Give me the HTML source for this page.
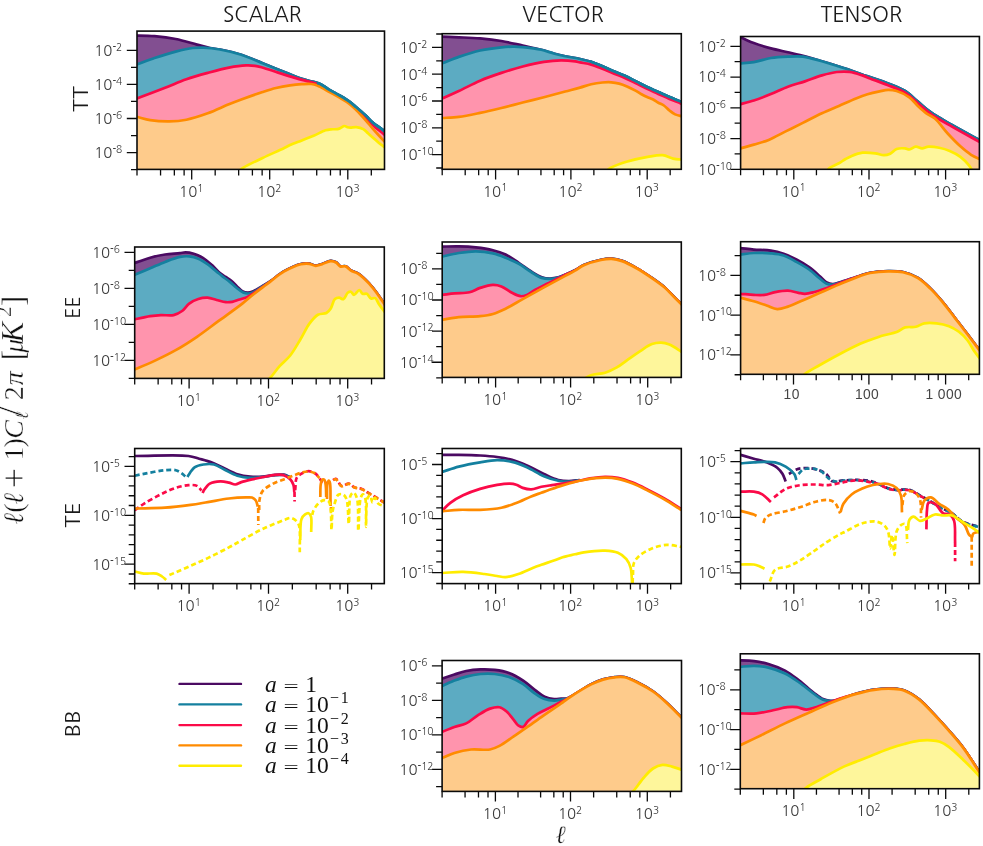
<!DOCTYPE html>
<html><head><meta charset="utf-8"><title>Power spectra</title>
<style>html,body{margin:0;padding:0;background:#fff;}svg{display:block;}</style>
</head><body>
<svg width="983" height="846" viewBox="0 0 983 846">
<rect width="983" height="846" fill="#fff"/>
<clipPath id="cA"><rect x="137" y="31.1" width="247.5" height="138.3"/></clipPath>
<g clip-path="url(#cA)" fill="none" stroke-linejoin="round" stroke-linecap="butt">
<path d="M134,35.6C135,35.6 135.59,35.58 137,35.6C140.42,35.66 148.4,35.69 154.5,36.2C161.24,36.76 168.67,37.62 175.7,39C182.84,40.4 190.77,42.97 197,44.6C201.87,45.88 205.93,47.16 210,48C213.53,48.72 216.07,48.72 220,49.5C225.8,50.65 234.28,52.54 241.3,54.8C248.48,57.11 256.08,60.69 262.6,63.3C268.15,65.52 273.18,67.59 278,69.5C282.24,71.19 286.02,72.63 290,74.2C293.95,75.76 297.82,77.61 301.8,78.9C305.69,80.16 310.18,80.91 313.6,81.9C316.28,82.67 318.32,83.06 320.7,84.2C323.44,85.51 326.03,87.81 329,89.6C332.29,91.58 336.19,93.49 339.6,95.5C342.88,97.43 346.23,99.33 349.1,101.4C351.71,103.28 353.68,105.15 356.2,107.3C359.15,109.81 362.82,112.9 365.7,115.6C368.25,117.99 370.02,120.32 372.7,122.6C375.8,125.23 380.79,128.38 383.4,130.3C384.93,131.42 385.8,132.1 387,133L387,172.4L134,172.4Z" fill="#824f91" stroke="none"/>
<path d="M134,35.6C135,35.6 135.59,35.58 137,35.6C140.42,35.66 148.4,35.69 154.5,36.2C161.24,36.76 168.67,37.62 175.7,39C182.84,40.4 190.77,42.97 197,44.6C201.87,45.88 205.93,47.16 210,48C213.53,48.72 216.07,48.72 220,49.5C225.8,50.65 234.28,52.54 241.3,54.8C248.48,57.11 256.08,60.69 262.6,63.3C268.15,65.52 273.18,67.59 278,69.5C282.24,71.19 286.02,72.63 290,74.2C293.95,75.76 297.82,77.61 301.8,78.9C305.69,80.16 310.18,80.91 313.6,81.9C316.28,82.67 318.32,83.06 320.7,84.2C323.44,85.51 326.03,87.81 329,89.6C332.29,91.58 336.19,93.49 339.6,95.5C342.88,97.43 346.23,99.33 349.1,101.4C351.71,103.28 353.68,105.15 356.2,107.3C359.15,109.81 362.82,112.9 365.7,115.6C368.25,117.99 370.02,120.32 372.7,122.6C375.8,125.23 380.79,128.38 383.4,130.3C384.93,131.42 385.8,132.1 387,133" stroke="#4b0a62" stroke-width="2.7"/>
<path d="M134,65.2C135,64.93 135.6,64.84 137,64.4C140.43,63.32 148.36,60.05 154.5,58C161.2,55.77 168.98,53.32 175.7,51.6C181.67,50.07 187.75,48.62 192.8,48C196.73,47.52 199.48,47.45 203.4,47.6C208.32,47.79 214.16,48.44 220,49.5C226.7,50.71 234.28,52.54 241.3,54.8C248.48,57.11 256.08,60.69 262.6,63.3C268.15,65.52 273.18,67.59 278,69.5C282.24,71.19 286.02,72.63 290,74.2C293.95,75.76 297.82,77.61 301.8,78.9C305.69,80.16 310.18,80.91 313.6,81.9C316.28,82.67 318.32,83.06 320.7,84.2C323.44,85.51 326.03,87.81 329,89.6C332.29,91.58 336.19,93.49 339.6,95.5C342.88,97.43 346.23,99.33 349.1,101.4C351.71,103.28 353.68,105.15 356.2,107.3C359.15,109.81 362.82,112.9 365.7,115.6C368.25,117.99 370.02,120.32 372.7,122.6C375.8,125.23 380.79,128.38 383.4,130.3C384.93,131.42 385.8,132.1 387,133L387,172.4L134,172.4Z" fill="#5cabc2" stroke="none"/>
<path d="M134,65.2C135,64.93 135.6,64.84 137,64.4C140.43,63.32 148.36,60.05 154.5,58C161.2,55.77 168.98,53.32 175.7,51.6C181.67,50.07 187.75,48.62 192.8,48C196.73,47.52 199.48,47.45 203.4,47.6C208.32,47.79 214.16,48.44 220,49.5C226.7,50.71 234.28,52.54 241.3,54.8C248.48,57.11 256.08,60.69 262.6,63.3C268.15,65.52 273.18,67.59 278,69.5C282.24,71.19 286.02,72.63 290,74.2C293.95,75.76 297.82,77.61 301.8,78.9C305.69,80.16 310.18,80.91 313.6,81.9C316.28,82.67 318.32,83.06 320.7,84.2C323.44,85.51 326.03,87.81 329,89.6C332.29,91.58 336.19,93.49 339.6,95.5C342.88,97.43 346.23,99.33 349.1,101.4C351.71,103.28 353.68,105.15 356.2,107.3C359.15,109.81 362.82,112.9 365.7,115.6C368.25,117.99 370.02,120.32 372.7,122.6C375.8,125.23 380.79,128.38 383.4,130.3C384.93,131.42 385.8,132.1 387,133" stroke="#14809f" stroke-width="2.7"/>
<path d="M134,99.4C135,99.07 135.5,98.93 137,98.4C141.62,96.76 156.4,91.18 165.1,87.8C172.71,84.85 179.24,81.8 186.4,79.3C193.45,76.84 200.59,74.86 207.7,72.9C214.75,70.96 222.18,68.87 228.9,67.6C234.87,66.47 241.2,65.6 246,65.4C249.47,65.25 252.17,65.41 255,65.8C257.58,66.15 259.42,66.7 262.3,67.5C266.58,68.69 272.82,70.92 278.1,72.6C283.39,74.29 288.67,76.06 294,77.6C299.31,79.13 305.95,80.7 310,81.8C312.48,82.48 314.13,82.9 316,83.5C317.67,84.04 318.97,84.34 320.7,85.2C323.14,86.41 326.03,88.81 329,90.6C332.29,92.58 336.19,94.49 339.6,96.5C342.88,98.43 346.24,100.29 349.1,102.4C351.73,104.34 353.68,106.32 356.2,108.6C359.16,111.28 362.82,114.61 365.7,117.5C368.26,120.06 370.03,122.49 372.7,125C375.81,127.92 380.8,131.57 383.4,133.8C384.93,135.11 385.8,135.93 387,137L387,172.4L134,172.4Z" fill="#ff94ad" stroke="none"/>
<path d="M134,99.4C135,99.07 135.5,98.93 137,98.4C141.62,96.76 156.4,91.18 165.1,87.8C172.71,84.85 179.24,81.8 186.4,79.3C193.45,76.84 200.59,74.86 207.7,72.9C214.75,70.96 222.18,68.87 228.9,67.6C234.87,66.47 241.2,65.6 246,65.4C249.47,65.25 252.17,65.41 255,65.8C257.58,66.15 259.42,66.7 262.3,67.5C266.58,68.69 272.82,70.92 278.1,72.6C283.39,74.29 288.67,76.06 294,77.6C299.31,79.13 305.95,80.7 310,81.8C312.48,82.48 314.13,82.9 316,83.5C317.67,84.04 318.97,84.34 320.7,85.2C323.14,86.41 326.03,88.81 329,90.6C332.29,92.58 336.19,94.49 339.6,96.5C342.88,98.43 346.24,100.29 349.1,102.4C351.73,104.34 353.68,106.32 356.2,108.6C359.16,111.28 362.82,114.61 365.7,117.5C368.26,120.06 370.03,122.49 372.7,125C375.81,127.92 380.8,131.57 383.4,133.8C384.93,135.11 385.8,135.93 387,137" stroke="#fb0a48" stroke-width="2.7"/>
<path d="M134,116.4C135,116.57 135.65,116.62 137,116.9C139.85,117.48 145.35,119.35 150.2,120.1C155.97,120.99 163.2,121.5 169.4,121.4C175.24,121.31 180.47,120.88 186.4,119.7C193.16,118.36 200.68,115.84 207.7,113.3C214.85,110.72 222.76,106.79 228.9,104.3C233.57,102.41 236.6,101.24 241.3,99.5C247.43,97.23 256.3,94.05 262.6,92C267.56,90.39 271.45,89.1 276,88C280.59,86.89 285.52,86.04 290,85.4C294.09,84.81 298.08,84.43 301.8,84.2C305.13,84 308.53,83.7 311.3,84C313.52,84.24 315.37,84.74 317.2,85.4C318.92,86.03 320.26,86.87 322,87.8C324.13,88.94 326.42,90.35 329,91.8C332.16,93.58 336.19,95.69 339.6,97.7C342.88,99.63 346.25,101.46 349.1,103.6C351.74,105.58 353.72,107.55 356.2,110C359.2,112.97 362.81,117.02 365.7,120.3C368.25,123.19 370.09,125.62 372.7,128.6C375.86,132.21 380.76,137.62 383.4,140.4C384.89,141.97 385.8,142.8 387,144L387,172.4L134,172.4Z" fill="#fecb8b" stroke="none"/>
<path d="M134,116.4C135,116.57 135.65,116.62 137,116.9C139.85,117.48 145.35,119.35 150.2,120.1C155.97,120.99 163.2,121.5 169.4,121.4C175.24,121.31 180.47,120.88 186.4,119.7C193.16,118.36 200.68,115.84 207.7,113.3C214.85,110.72 222.76,106.79 228.9,104.3C233.57,102.41 236.6,101.24 241.3,99.5C247.43,97.23 256.3,94.05 262.6,92C267.56,90.39 271.45,89.1 276,88C280.59,86.89 285.52,86.04 290,85.4C294.09,84.81 298.08,84.43 301.8,84.2C305.13,84 308.53,83.7 311.3,84C313.52,84.24 315.37,84.74 317.2,85.4C318.92,86.03 320.26,86.87 322,87.8C324.13,88.94 326.42,90.35 329,91.8C332.16,93.58 336.19,95.69 339.6,97.7C342.88,99.63 346.25,101.46 349.1,103.6C351.74,105.58 353.72,107.55 356.2,110C359.2,112.97 362.81,117.02 365.7,120.3C368.25,123.19 370.09,125.62 372.7,128.6C375.86,132.21 380.76,137.62 383.4,140.4C384.89,141.97 385.8,142.8 387,144" stroke="#ff8b00" stroke-width="2.7"/>
<path d="M238,172C239.8,170.53 240.93,169.2 243.4,167.6C247.74,164.8 256.02,161.17 262.6,158C269.47,154.7 278.85,150.58 283.8,148.2C286.5,146.9 287.58,146.19 290,145.1C293.28,143.63 297.87,141.97 301.8,140.4C305.73,138.83 309.68,137.37 313.6,135.7C317.58,134.01 322.24,131.32 325.5,130.3C327.63,129.63 329.1,129.5 331,129.3C333.02,129.09 335.57,129.42 337.3,129.1C338.57,128.87 339.4,128.47 340.5,128C341.75,127.47 343.16,126.06 344.4,126C345.48,125.94 346.48,126.93 347.5,127.2C348.44,127.45 349.19,127.57 350.3,127.6C351.9,127.65 354.16,126.91 356.2,127.1C358.48,127.32 361.28,127.99 363.3,129.1C365.17,130.12 366.43,131.91 368,133.3C369.56,134.68 371.04,135.94 372.7,137.4C374.58,139.05 376.8,141.13 378.7,142.7C380.34,144.05 381.93,145.19 383.4,146.3C384.68,147.27 385.8,148.1 387,149L387,172.4L238,172.4Z" fill="#fef69b" stroke="none"/>
<path d="M238,172C239.8,170.53 240.93,169.2 243.4,167.6C247.74,164.8 256.02,161.17 262.6,158C269.47,154.7 278.85,150.58 283.8,148.2C286.5,146.9 287.58,146.19 290,145.1C293.28,143.63 297.87,141.97 301.8,140.4C305.73,138.83 309.68,137.37 313.6,135.7C317.58,134.01 322.24,131.32 325.5,130.3C327.63,129.63 329.1,129.5 331,129.3C333.02,129.09 335.57,129.42 337.3,129.1C338.57,128.87 339.4,128.47 340.5,128C341.75,127.47 343.16,126.06 344.4,126C345.48,125.94 346.48,126.93 347.5,127.2C348.44,127.45 349.19,127.57 350.3,127.6C351.9,127.65 354.16,126.91 356.2,127.1C358.48,127.32 361.28,127.99 363.3,129.1C365.17,130.12 366.43,131.91 368,133.3C369.56,134.68 371.04,135.94 372.7,137.4C374.58,139.05 376.8,141.13 378.7,142.7C380.34,144.05 381.93,145.19 383.4,146.3C384.68,147.27 385.8,148.1 387,149" stroke="#ffec00" stroke-width="2.7"/>
<path d="M318,83.2C318.9,83.53 319.59,83.64 320.7,84.2C322.75,85.23 326.03,87.81 329,89.6C332.29,91.58 336.19,93.49 339.6,95.5C342.88,97.43 346.23,99.33 349.1,101.4C351.71,103.28 353.68,105.15 356.2,107.3C359.15,109.81 362.82,112.9 365.7,115.6C368.25,117.99 370.02,120.32 372.7,122.6C375.8,125.23 380.79,128.38 383.4,130.3C384.93,131.42 385.8,132.1 387,133" stroke="#14809f" stroke-width="2.7" stroke-linecap="round"/>
</g>
<rect x="137" y="31.1" width="247.5" height="138.3" fill="none" stroke="#0a0a0a" stroke-width="1.6"/>
<path d="M131,169.65H137M126.8,152.6H137M131,135.55H137M126.8,118.5H137M131,101.45H137M126.8,84.4H137M131,67.35H137M126.8,50.3H137M137,169.4V175.4M160.56,169.4V175.4M174.34,169.4V175.4M184.12,169.4V175.4M191.7,169.4V179.6M215.18,169.4V175.4M238.66,169.4V175.4M252.4,169.4V175.4M262.14,169.4V175.4M269.7,169.4V179.6M293.21,169.4V175.4M316.72,169.4V175.4M330.47,169.4V175.4M340.23,169.4V175.4M347.8,169.4V179.6M371.31,169.4V175.4" stroke="#0a0a0a" stroke-width="1.3" fill="none"/>
<g fill="#3c3c3c" font-family="NanumGothic, 'Liberation Sans', sans-serif">
<text x="94.2" y="158" font-size="15.0">10<tspan dy="-5.1" font-size="10.2">-8</tspan></text>
<text x="94.2" y="123.9" font-size="15.0">10<tspan dy="-5.1" font-size="10.2">-6</tspan></text>
<text x="94.2" y="89.8" font-size="15.0">10<tspan dy="-5.1" font-size="10.2">-4</tspan></text>
<text x="94.2" y="55.7" font-size="15.0">10<tspan dy="-5.1" font-size="10.2">-2</tspan></text>
<text x="191.3" y="196.9" text-anchor="middle" font-size="15">10<tspan dy="-5.4" font-size="10.2">1</tspan></text>
<text x="269.3" y="196.9" text-anchor="middle" font-size="15">10<tspan dy="-5.4" font-size="10.2">2</tspan></text>
<text x="347.4" y="196.9" text-anchor="middle" font-size="15">10<tspan dy="-5.4" font-size="10.2">3</tspan></text>
</g>
<clipPath id="cB"><rect x="442.2" y="33.7" width="239.1" height="135.6"/></clipPath>
<g clip-path="url(#cB)" fill="none" stroke-linejoin="round" stroke-linecap="butt">
<path d="M439,36.7C440.07,36.7 440.72,36.67 442.2,36.7C445.58,36.76 452.92,37.04 458.8,37.3C465.46,37.59 473.01,37.79 480.1,38.4C487.21,39.02 494.33,39.81 501.4,41C508.53,42.2 515.84,44.09 522.7,45.6C529.11,47.02 535.64,48.33 541.3,49.8C546.13,51.05 550.4,52.59 554.6,53.7C558.32,54.68 561.36,55.38 565.2,56.2C569.71,57.16 575.42,58 580,59C584.01,59.88 587.51,60.6 591.2,61.8C594.98,63.02 598.68,64.72 602.4,66.3C606.15,67.89 609.85,69.71 613.6,71.3C617.32,72.88 621.1,74.14 624.8,75.8C628.57,77.5 632.28,79.53 636,81.4C639.71,83.26 643.37,85.23 647.1,87C650.8,88.76 654.57,90.32 658.3,92C662.04,93.68 665.75,95.51 669.5,97.1C673.21,98.67 678.08,100.39 680.7,101.5C682.14,102.11 682.9,102.5 684,103L684,172.3L439,172.3Z" fill="#824f91" stroke="none"/>
<path d="M439,36.7C440.07,36.7 440.72,36.67 442.2,36.7C445.58,36.76 452.92,37.04 458.8,37.3C465.46,37.59 473.01,37.79 480.1,38.4C487.21,39.02 494.33,39.81 501.4,41C508.53,42.2 515.84,44.09 522.7,45.6C529.11,47.02 535.64,48.33 541.3,49.8C546.13,51.05 550.4,52.59 554.6,53.7C558.32,54.68 561.36,55.38 565.2,56.2C569.71,57.16 575.42,58 580,59C584.01,59.88 587.51,60.6 591.2,61.8C594.98,63.02 598.68,64.72 602.4,66.3C606.15,67.89 609.85,69.71 613.6,71.3C617.32,72.88 621.1,74.14 624.8,75.8C628.57,77.5 632.28,79.53 636,81.4C639.71,83.26 643.37,85.23 647.1,87C650.8,88.76 654.57,90.32 658.3,92C662.04,93.68 665.75,95.51 669.5,97.1C673.21,98.67 678.08,100.39 680.7,101.5C682.14,102.11 682.9,102.5 684,103" stroke="#4b0a62" stroke-width="2.7"/>
<path d="M439,64.2C440.07,63.9 440.73,63.79 442.2,63.3C445.59,62.17 452.88,58.93 458.8,56.9C465.42,54.63 472.94,52.1 480.1,50.5C487.14,48.92 495.2,47.91 501.4,47.3C506.16,46.83 509.43,46.6 514.1,46.7C519.84,46.82 528.29,47.74 533.3,48.4C536.55,48.83 538.32,49.1 541.3,49.8C545.2,50.71 550.4,52.59 554.6,53.7C558.32,54.68 561.36,55.38 565.2,56.2C569.71,57.16 575.42,58 580,59C584.01,59.88 587.51,60.6 591.2,61.8C594.98,63.02 598.68,64.72 602.4,66.3C606.15,67.89 609.85,69.71 613.6,71.3C617.32,72.88 621.1,74.14 624.8,75.8C628.57,77.5 632.28,79.53 636,81.4C639.71,83.26 643.37,85.23 647.1,87C650.8,88.76 654.57,90.32 658.3,92C662.04,93.68 665.75,95.51 669.5,97.1C673.21,98.67 678.08,100.39 680.7,101.5C682.14,102.11 682.9,102.5 684,103L684,172.3L439,172.3Z" fill="#5cabc2" stroke="none"/>
<path d="M439,64.2C440.07,63.9 440.73,63.79 442.2,63.3C445.59,62.17 452.88,58.93 458.8,56.9C465.42,54.63 472.94,52.1 480.1,50.5C487.14,48.92 495.2,47.91 501.4,47.3C506.16,46.83 509.43,46.6 514.1,46.7C519.84,46.82 528.29,47.74 533.3,48.4C536.55,48.83 538.32,49.1 541.3,49.8C545.2,50.71 550.4,52.59 554.6,53.7C558.32,54.68 561.36,55.38 565.2,56.2C569.71,57.16 575.42,58 580,59C584.01,59.88 587.51,60.6 591.2,61.8C594.98,63.02 598.68,64.72 602.4,66.3C606.15,67.89 609.85,69.71 613.6,71.3C617.32,72.88 621.1,74.14 624.8,75.8C628.57,77.5 632.28,79.53 636,81.4C639.71,83.26 643.37,85.23 647.1,87C650.8,88.76 654.57,90.32 658.3,92C662.04,93.68 665.75,95.51 669.5,97.1C673.21,98.67 678.08,100.39 680.7,101.5C682.14,102.11 682.9,102.5 684,103" stroke="#14809f" stroke-width="2.7"/>
<path d="M439,99.4C440.07,99.07 440.74,98.95 442.2,98.4C445.6,97.12 452.94,93.72 458.8,91C465.48,87.9 472.92,83.74 480.1,80.7C487.13,77.72 494.26,75.28 501.4,72.9C508.47,70.55 515.57,68.36 522.7,66.5C529.74,64.66 537.18,62.84 543.9,61.8C549.87,60.88 555.55,60.33 561,60.3C565.98,60.27 571.84,60.9 575.3,61.4C577.3,61.69 578.1,62.01 580,62.4C582.93,63 587.51,63.57 591.2,64.6C594.98,65.65 598.69,67.23 602.4,68.7C606.15,70.19 609.85,71.96 613.6,73.5C617.32,75.03 621.1,76.27 624.8,77.9C628.57,79.56 632.28,81.56 636,83.4C639.71,85.23 643.37,87.15 647.1,88.9C650.81,90.65 654.57,92.22 658.3,93.9C662.04,95.58 665.75,97.41 669.5,99C673.21,100.57 678.08,102.29 680.7,103.4C682.14,104.01 682.9,104.4 684,104.9L684,172.3L439,172.3Z" fill="#ff94ad" stroke="none"/>
<path d="M439,99.4C440.07,99.07 440.74,98.95 442.2,98.4C445.6,97.12 452.94,93.72 458.8,91C465.48,87.9 472.92,83.74 480.1,80.7C487.13,77.72 494.26,75.28 501.4,72.9C508.47,70.55 515.57,68.36 522.7,66.5C529.74,64.66 537.18,62.84 543.9,61.8C549.87,60.88 555.55,60.33 561,60.3C565.98,60.27 571.84,60.9 575.3,61.4C577.3,61.69 578.1,62.01 580,62.4C582.93,63 587.51,63.57 591.2,64.6C594.98,65.65 598.69,67.23 602.4,68.7C606.15,70.19 609.85,71.96 613.6,73.5C617.32,75.03 621.1,76.27 624.8,77.9C628.57,79.56 632.28,81.56 636,83.4C639.71,85.23 643.37,87.15 647.1,88.9C650.81,90.65 654.57,92.22 658.3,93.9C662.04,95.58 665.75,97.41 669.5,99C673.21,100.57 678.08,102.29 680.7,103.4C682.14,104.01 682.9,104.4 684,104.9" stroke="#fb0a48" stroke-width="2.7"/>
<path d="M439,118.3C440.07,118.2 440.72,118.12 442.2,118C445.58,117.73 452.95,117.64 458.8,116.9C465.48,116.05 473.01,114.38 480.1,112.9C487.22,111.41 494.31,109.73 501.4,108C508.51,106.26 515.6,104.3 522.7,102.5C529.77,100.7 536.83,99.03 543.9,97.2C551,95.36 558.74,93.21 565.2,91.5C570.58,90.07 575.42,88.9 580,87.6C584,86.47 587.44,85.05 591.2,84.2C594.9,83.36 598.87,82.81 602.4,82.5C605.53,82.23 608.43,82.1 611.3,82.3C614.02,82.49 616.61,82.93 619.2,83.6C621.84,84.28 624.34,85.26 627,86.4C629.93,87.65 633.4,89.45 636,90.9C638.09,92.06 639.63,93.26 641.5,94.3C643.34,95.32 645.21,96.26 647.1,97.1C648.95,97.92 650.87,98.39 652.7,99.3C654.61,100.25 656.41,101.66 658.3,102.7C660.15,103.72 662.11,104.29 663.9,105.5C665.86,106.83 667.59,108.99 669.5,110.5C671.32,111.94 673.2,113.49 675.1,114.4C676.78,115.2 678.61,115.59 680.2,115.9C681.55,116.17 682.73,116.17 684,116.3L684,172.3L439,172.3Z" fill="#fecb8b" stroke="none"/>
<path d="M439,118.3C440.07,118.2 440.72,118.12 442.2,118C445.58,117.73 452.95,117.64 458.8,116.9C465.48,116.05 473.01,114.38 480.1,112.9C487.22,111.41 494.31,109.73 501.4,108C508.51,106.26 515.6,104.3 522.7,102.5C529.77,100.7 536.83,99.03 543.9,97.2C551,95.36 558.74,93.21 565.2,91.5C570.58,90.07 575.42,88.9 580,87.6C584,86.47 587.44,85.05 591.2,84.2C594.9,83.36 598.87,82.81 602.4,82.5C605.53,82.23 608.43,82.1 611.3,82.3C614.02,82.49 616.61,82.93 619.2,83.6C621.84,84.28 624.34,85.26 627,86.4C629.93,87.65 633.4,89.45 636,90.9C638.09,92.06 639.63,93.26 641.5,94.3C643.34,95.32 645.21,96.26 647.1,97.1C648.95,97.92 650.87,98.39 652.7,99.3C654.61,100.25 656.41,101.66 658.3,102.7C660.15,103.72 662.11,104.29 663.9,105.5C665.86,106.83 667.59,108.99 669.5,110.5C671.32,111.94 673.2,113.49 675.1,114.4C676.78,115.2 678.61,115.59 680.2,115.9C681.55,116.17 682.73,116.17 684,116.3" stroke="#ff8b00" stroke-width="2.7"/>
<path d="M606,171C607.47,170 608.4,169.05 610.4,168C614,166.11 620.62,163.58 626.4,161.8C632.93,159.8 641.2,158.01 647.7,156.9C653.08,155.98 658.1,154.76 662.6,155.2C666.48,155.58 669.61,157.83 673.2,158.6C676.75,159.36 680.4,159.4 684,159.8L684,172.3L606,172.3Z" fill="#fef69b" stroke="none"/>
<path d="M606,171C607.47,170 608.4,169.05 610.4,168C614,166.11 620.62,163.58 626.4,161.8C632.93,159.8 641.2,158.01 647.7,156.9C653.08,155.98 658.1,154.76 662.6,155.2C666.48,155.58 669.61,157.83 673.2,158.6C676.75,159.36 680.4,159.4 684,159.8" stroke="#ffec00" stroke-width="2.7"/>
<path d="M591.2,61.8C594.93,63.3 598.68,64.72 602.4,66.3C606.15,67.89 609.85,69.71 613.6,71.3C617.32,72.88 621.1,74.14 624.8,75.8C628.57,77.5 632.28,79.53 636,81.4C639.71,83.26 643.37,85.23 647.1,87C650.8,88.76 654.57,90.32 658.3,92C662.04,93.68 665.75,95.51 669.5,97.1C673.21,98.67 678.08,100.39 680.7,101.5C682.14,102.11 682.9,102.5 684,103" stroke="#14809f" stroke-width="2.7" stroke-linecap="round"/>
</g>
<rect x="442.2" y="33.7" width="239.1" height="135.6" fill="none" stroke="#0a0a0a" stroke-width="1.6"/>
<path d="M436.2,168H442.2M432,154.6H442.2M436.2,141.2H442.2M432,127.8H442.2M436.2,114.4H442.2M432,101H442.2M436.2,87.6H442.2M432,74.2H442.2M436.2,60.8H442.2M432,47.4H442.2M436.2,34H442.2M442.2,169.3V175.3M465.2,169.3V175.3M478.65,169.3V175.3M488.2,169.3V175.3M495.6,169.3V179.5M518.27,169.3V175.3M540.94,169.3V175.3M554.19,169.3V175.3M563.6,169.3V175.3M570.9,169.3V179.5M593.87,169.3V175.3M616.84,169.3V175.3M630.27,169.3V175.3M639.81,169.3V175.3M647.2,169.3V179.5M670.17,169.3V175.3" stroke="#0a0a0a" stroke-width="1.3" fill="none"/>
<g fill="#3c3c3c" font-family="NanumGothic, 'Liberation Sans', sans-serif">
<text x="399.4" y="160" font-size="15.0">10<tspan dy="-5.1" font-size="10.2">-10</tspan></text>
<text x="399.4" y="133.2" font-size="15.0">10<tspan dy="-5.1" font-size="10.2">-8</tspan></text>
<text x="399.4" y="106.4" font-size="15.0">10<tspan dy="-5.1" font-size="10.2">-6</tspan></text>
<text x="399.4" y="79.6" font-size="15.0">10<tspan dy="-5.1" font-size="10.2">-4</tspan></text>
<text x="399.4" y="52.8" font-size="15.0">10<tspan dy="-5.1" font-size="10.2">-2</tspan></text>
<text x="495.2" y="196.8" text-anchor="middle" font-size="15">10<tspan dy="-5.4" font-size="10.2">1</tspan></text>
<text x="570.5" y="196.8" text-anchor="middle" font-size="15">10<tspan dy="-5.4" font-size="10.2">2</tspan></text>
<text x="646.8" y="196.8" text-anchor="middle" font-size="15">10<tspan dy="-5.4" font-size="10.2">3</tspan></text>
</g>
<clipPath id="cC"><rect x="740.6" y="36.5" width="238.8" height="132.8"/></clipPath>
<g clip-path="url(#cC)" fill="none" stroke-linejoin="round" stroke-linecap="butt">
<path d="M738,37C738.87,37.17 739.43,37.14 740.6,37.5C743.33,38.33 749.07,41.37 753.8,43.1C759.09,45.04 765.18,46.88 770.9,48.4C776.54,49.9 782.72,51.02 787.9,52.2C792.28,53.2 795.98,54 800,55C804.02,56 808.2,57.12 812,58.2C815.47,59.19 818.16,60.05 821.9,61.2C826.81,62.71 833.64,64.82 838.9,66.5C843.47,67.96 847.27,69.18 851.7,70.7C856.54,72.36 861.33,74.17 866.8,76.1C873.29,78.39 881.45,80.88 888.1,83.5C894.14,85.88 900.03,87.86 905.1,91C909.9,93.97 913.63,98.07 917.9,101.6C922.17,105.13 925.74,108.69 930.7,112.2C936.76,116.5 944.25,120.54 952,125C961.1,130.23 972,136 982,141.5L982,172.3L738,172.3Z" fill="#824f91" stroke="none"/>
<path d="M738,37C738.87,37.17 739.43,37.14 740.6,37.5C743.33,38.33 749.07,41.37 753.8,43.1C759.09,45.04 765.18,46.88 770.9,48.4C776.54,49.9 782.72,51.02 787.9,52.2C792.28,53.2 795.98,54 800,55C804.02,56 808.2,57.12 812,58.2C815.47,59.19 818.16,60.05 821.9,61.2C826.81,62.71 833.64,64.82 838.9,66.5C843.47,67.96 847.27,69.18 851.7,70.7C856.54,72.36 861.33,74.17 866.8,76.1C873.29,78.39 881.45,80.88 888.1,83.5C894.14,85.88 900.03,87.86 905.1,91C909.9,93.97 913.63,98.07 917.9,101.6C922.17,105.13 925.74,108.69 930.7,112.2C936.76,116.5 944.25,120.54 952,125C961.1,130.23 972,136 982,141.5" stroke="#4b0a62" stroke-width="2.7"/>
<path d="M738,63.5C738.87,63.43 739.4,63.4 740.6,63.3C743.31,63.08 749.15,62.96 753.8,62.2C759.16,61.32 765.17,58.93 770.9,58C776.54,57.08 782.4,56.83 787.9,56.6C793.08,56.39 798.64,56.12 803,56.6C806.41,56.97 808.94,57.86 812,58.6C815.23,59.38 818.17,60.13 821.9,61.2C826.82,62.61 833.64,64.82 838.9,66.5C843.47,67.96 847.27,69.18 851.7,70.7C856.54,72.36 861.33,74.17 866.8,76.1C873.29,78.39 881.45,80.88 888.1,83.5C894.14,85.88 900.03,87.86 905.1,91C909.9,93.97 913.63,98.07 917.9,101.6C922.17,105.13 925.74,108.69 930.7,112.2C936.76,116.5 944.25,120.54 952,125C961.1,130.23 972,136 982,141.5L982,172.3L738,172.3Z" fill="#5cabc2" stroke="none"/>
<path d="M738,63.5C738.87,63.43 739.4,63.4 740.6,63.3C743.31,63.08 749.15,62.96 753.8,62.2C759.16,61.32 765.17,58.93 770.9,58C776.54,57.08 782.4,56.83 787.9,56.6C793.08,56.39 798.64,56.12 803,56.6C806.41,56.97 808.94,57.86 812,58.6C815.23,59.38 818.17,60.13 821.9,61.2C826.82,62.61 833.64,64.82 838.9,66.5C843.47,67.96 847.27,69.18 851.7,70.7C856.54,72.36 861.33,74.17 866.8,76.1C873.29,78.39 881.45,80.88 888.1,83.5C894.14,85.88 900.03,87.86 905.1,91C909.9,93.97 913.63,98.07 917.9,101.6C922.17,105.13 925.74,108.69 930.7,112.2C936.76,116.5 944.25,120.54 952,125C961.1,130.23 972,136 982,141.5" stroke="#14809f" stroke-width="2.7"/>
<path d="M738,104.8C738.87,104.57 739.4,104.43 740.6,104.1C743.31,103.37 749.15,102 753.8,100.5C759.17,98.77 765.24,96.39 770.9,94.1C776.61,91.79 782.17,88.83 787.9,86.7C793.51,84.61 799.25,83.28 804.9,81.4C810.58,79.51 816.38,77 821.9,75.4C826.99,73.93 831.99,72.56 836.8,72C841.2,71.49 845.38,71.35 849.6,71.9C853.88,72.46 858.62,74.18 862.3,75.4C865.21,76.37 866.89,77.21 870,78.4C874.76,80.22 882.19,82.79 888.1,85.2C893.89,87.56 900.03,89.56 905.1,92.7C909.9,95.67 913.63,99.77 917.9,103.3C922.17,106.83 925.74,110.39 930.7,113.9C936.76,118.2 944.25,122.23 952,126.7C961.1,131.95 972,137.77 982,143.3L982,172.3L738,172.3Z" fill="#ff94ad" stroke="none"/>
<path d="M738,104.8C738.87,104.57 739.4,104.43 740.6,104.1C743.31,103.37 749.15,102 753.8,100.5C759.17,98.77 765.24,96.39 770.9,94.1C776.61,91.79 782.17,88.83 787.9,86.7C793.51,84.61 799.25,83.28 804.9,81.4C810.58,79.51 816.38,77 821.9,75.4C826.99,73.93 831.99,72.56 836.8,72C841.2,71.49 845.38,71.35 849.6,71.9C853.88,72.46 858.62,74.18 862.3,75.4C865.21,76.37 866.89,77.21 870,78.4C874.76,80.22 882.19,82.79 888.1,85.2C893.89,87.56 900.03,89.56 905.1,92.7C909.9,95.67 913.63,99.77 917.9,103.3C922.17,106.83 925.74,110.39 930.7,113.9C936.76,118.2 944.25,122.23 952,126.7C961.1,131.95 972,137.77 982,143.3" stroke="#fb0a48" stroke-width="2.7"/>
<path d="M738,149.2C738.87,148.93 739.4,148.76 740.6,148.4C743.3,147.6 749.28,145.96 753.8,144.6C758.63,143.14 763.65,141.94 768.7,139.9C774.27,137.65 780.02,134.23 785.7,131.4C791.39,128.56 796.95,125.83 802.8,122.9C808.99,119.8 815.68,116.21 821.9,113.3C827.69,110.59 833.23,108.38 838.9,105.9C844.59,103.41 850.83,100.45 856,98.4C860.18,96.74 863.59,95.46 867.5,94.3C871.45,93.13 875.91,92.17 879.6,91.4C882.67,90.76 885.26,89.97 888.1,89.9C890.93,89.83 893.56,90.08 896.6,91C900.52,92.18 905.75,94.67 909.4,97.3C912.76,99.72 915.02,103.19 917.9,105.9C920.69,108.51 923.48,111.14 926.4,113.3C929.15,115.34 931.98,116.09 934.9,118.6C938.99,122.11 943.36,128.8 947.7,133.5C951.86,138.01 956.24,142.57 960.4,146.3C964.02,149.54 967.39,152.44 971.1,154.8C974.6,157.02 978.37,158.4 982,160.2L982,172.3L738,172.3Z" fill="#fecb8b" stroke="none"/>
<path d="M738,149.2C738.87,148.93 739.4,148.76 740.6,148.4C743.3,147.6 749.28,145.96 753.8,144.6C758.63,143.14 763.65,141.94 768.7,139.9C774.27,137.65 780.02,134.23 785.7,131.4C791.39,128.56 796.95,125.83 802.8,122.9C808.99,119.8 815.68,116.21 821.9,113.3C827.69,110.59 833.23,108.38 838.9,105.9C844.59,103.41 850.83,100.45 856,98.4C860.18,96.74 863.59,95.46 867.5,94.3C871.45,93.13 875.91,92.17 879.6,91.4C882.67,90.76 885.26,89.97 888.1,89.9C890.93,89.83 893.56,90.08 896.6,91C900.52,92.18 905.75,94.67 909.4,97.3C912.76,99.72 915.02,103.19 917.9,105.9C920.69,108.51 923.48,111.14 926.4,113.3C929.15,115.34 931.98,116.09 934.9,118.6C938.99,122.11 943.36,128.8 947.7,133.5C951.86,138.01 956.24,142.57 960.4,146.3C964.02,149.54 967.39,152.44 971.1,154.8C974.6,157.02 978.37,158.4 982,160.2" stroke="#ff8b00" stroke-width="2.7"/>
<path d="M826,172C827.13,170.67 827.81,169.24 829.4,168C831.65,166.24 836.05,164.91 838.9,163.3C841.37,161.9 843.39,160.27 845.6,159C847.65,157.82 849.32,156.84 851.7,155.9C854.76,154.68 858.79,153.16 862.6,152.7C866.63,152.22 871.5,152.79 875.3,153.3C878.46,153.72 881.26,155.22 883.9,155.2C886.17,155.18 888.18,154.63 890.2,153.7C892.43,152.67 894.17,149.89 896.6,149C899.12,148.08 902.76,148.19 905.1,148.4C906.79,148.55 907.85,149.63 909.4,149.5C911.35,149.34 913.65,146.86 915.8,146.7C917.88,146.54 919.99,148.4 922.1,148.4C924.22,148.4 926.07,146.89 928.5,146.7C931.59,146.46 935.68,147.09 939.2,147.8C942.78,148.52 946.34,149.54 949.8,151C953.42,152.53 957.2,154.5 960.4,156.9C963.6,159.3 966.8,162.61 969,165.4C970.76,167.63 971.67,169.8 973,172L973,172.3L826,172.3Z" fill="#fef69b" stroke="none"/>
<path d="M826,172C827.13,170.67 827.81,169.24 829.4,168C831.65,166.24 836.05,164.91 838.9,163.3C841.37,161.9 843.39,160.27 845.6,159C847.65,157.82 849.32,156.84 851.7,155.9C854.76,154.68 858.79,153.16 862.6,152.7C866.63,152.22 871.5,152.79 875.3,153.3C878.46,153.72 881.26,155.22 883.9,155.2C886.17,155.18 888.18,154.63 890.2,153.7C892.43,152.67 894.17,149.89 896.6,149C899.12,148.08 902.76,148.19 905.1,148.4C906.79,148.55 907.85,149.63 909.4,149.5C911.35,149.34 913.65,146.86 915.8,146.7C917.88,146.54 919.99,148.4 922.1,148.4C924.22,148.4 926.07,146.89 928.5,146.7C931.59,146.46 935.68,147.09 939.2,147.8C942.78,148.52 946.34,149.54 949.8,151C953.42,152.53 957.2,154.5 960.4,156.9C963.6,159.3 966.8,162.61 969,165.4C970.76,167.63 971.67,169.8 973,172" stroke="#ffec00" stroke-width="2.7"/>
</g>
<rect x="740.6" y="36.5" width="238.8" height="132.8" fill="none" stroke="#0a0a0a" stroke-width="1.6"/>
<path d="M730.4,169.3H740.6M734.6,153.93H740.6M730.4,138.55H740.6M734.6,123.17H740.6M730.4,107.8H740.6M734.6,92.42H740.6M730.4,77.05H740.6M734.6,61.67H740.6M730.4,46.3H740.6M740.6,169.3V175.3M763.51,169.3V175.3M776.91,169.3V175.3M786.42,169.3V175.3M793.8,169.3V179.5M816.44,169.3V175.3M839.07,169.3V175.3M852.32,169.3V175.3M861.71,169.3V175.3M869,169.3V179.5M892.06,169.3V175.3M915.12,169.3V175.3M928.61,169.3V175.3M938.18,169.3V175.3M945.6,169.3V179.5M968.66,169.3V175.3" stroke="#0a0a0a" stroke-width="1.3" fill="none"/>
<g fill="#3c3c3c" font-family="NanumGothic, 'Liberation Sans', sans-serif">
<text x="697.8" y="174.7" font-size="15.0">10<tspan dy="-5.1" font-size="10.2">-10</tspan></text>
<text x="697.8" y="143.95" font-size="15.0">10<tspan dy="-5.1" font-size="10.2">-8</tspan></text>
<text x="697.8" y="113.2" font-size="15.0">10<tspan dy="-5.1" font-size="10.2">-6</tspan></text>
<text x="697.8" y="82.45" font-size="15.0">10<tspan dy="-5.1" font-size="10.2">-4</tspan></text>
<text x="697.8" y="51.7" font-size="15.0">10<tspan dy="-5.1" font-size="10.2">-2</tspan></text>
<text x="793.4" y="196.8" text-anchor="middle" font-size="15">10<tspan dy="-5.4" font-size="10.2">1</tspan></text>
<text x="868.6" y="196.8" text-anchor="middle" font-size="15">10<tspan dy="-5.4" font-size="10.2">2</tspan></text>
<text x="945.2" y="196.8" text-anchor="middle" font-size="15">10<tspan dy="-5.4" font-size="10.2">3</tspan></text>
</g>
<clipPath id="cD"><rect x="134.7" y="247" width="249.6" height="131.4"/></clipPath>
<g clip-path="url(#cD)" fill="none" stroke-linejoin="round" stroke-linecap="butt">
<path d="M132,264C132.9,263.67 133.43,263.45 134.7,263C137.74,261.92 145.04,259.13 150.2,257.7C155.17,256.32 160.11,255.25 165.1,254.5C170.04,253.76 176.25,253.67 180,253.2C182.29,252.91 183.48,252.29 185.5,252.3C187.96,252.31 190.94,252.86 193.7,253.7C196.74,254.62 199.95,256 202.9,257.8C206.07,259.73 209.1,262.5 212,265.1C214.9,267.7 217.71,271.3 220.3,273.4C222.23,274.97 223.97,275.79 225.8,277C227.64,278.22 229.53,279.25 231.3,280.7C233.21,282.27 234.95,284.43 236.8,286.2C238.61,287.93 240.33,290.14 242.3,291.2C244.03,292.13 245.97,292.6 247.8,292.6C249.63,292.6 251.39,291.96 253.3,291.2C255.62,290.27 258.03,288.6 260.6,287.1C263.55,285.38 266.61,283.64 270,281.4C274.21,278.62 278.79,274.35 283.8,271.5C289.05,268.51 296.1,265.13 300.9,264C304.14,263.24 306.81,263.24 309.4,263.6C311.69,263.92 313.58,265.63 315.7,265.7C317.82,265.77 319.83,264.71 322.1,264C324.75,263.17 328.07,261.02 330.6,260.9C332.59,260.8 334.41,261.43 336,262.3C337.61,263.18 338.58,265.56 340.2,266.2C341.76,266.81 343.82,265.62 345.5,266.2C347.41,266.86 348.87,269.2 350.9,270.4C353.1,271.7 355.75,271.96 358.3,273.6C361.69,275.78 365.68,279.78 368.9,283.2C372.03,286.53 374.56,289.95 377.4,293.8C380.59,298.13 383.8,303.27 387,308L387,381.4L132,381.4Z" fill="#824f91" stroke="none"/>
<path d="M132,264C132.9,263.67 133.43,263.45 134.7,263C137.74,261.92 145.04,259.13 150.2,257.7C155.17,256.32 160.11,255.25 165.1,254.5C170.04,253.76 176.25,253.67 180,253.2C182.29,252.91 183.48,252.29 185.5,252.3C187.96,252.31 190.94,252.86 193.7,253.7C196.74,254.62 199.95,256 202.9,257.8C206.07,259.73 209.1,262.5 212,265.1C214.9,267.7 217.71,271.3 220.3,273.4C222.23,274.97 223.97,275.79 225.8,277C227.64,278.22 229.53,279.25 231.3,280.7C233.21,282.27 234.95,284.43 236.8,286.2C238.61,287.93 240.33,290.14 242.3,291.2C244.03,292.13 245.97,292.6 247.8,292.6C249.63,292.6 251.39,291.96 253.3,291.2C255.62,290.27 258.03,288.6 260.6,287.1C263.55,285.38 266.61,283.64 270,281.4C274.21,278.62 278.79,274.35 283.8,271.5C289.05,268.51 296.1,265.13 300.9,264C304.14,263.24 306.81,263.24 309.4,263.6C311.69,263.92 313.58,265.63 315.7,265.7C317.82,265.77 319.83,264.71 322.1,264C324.75,263.17 328.07,261.02 330.6,260.9C332.59,260.8 334.41,261.43 336,262.3C337.61,263.18 338.58,265.56 340.2,266.2C341.76,266.81 343.82,265.62 345.5,266.2C347.41,266.86 348.87,269.2 350.9,270.4C353.1,271.7 355.75,271.96 358.3,273.6C361.69,275.78 365.68,279.78 368.9,283.2C372.03,286.53 374.56,289.95 377.4,293.8C380.59,298.13 383.8,303.27 387,308" stroke="#4b0a62" stroke-width="2.7"/>
<path d="M132,275.8C132.9,275.43 133.43,275.22 134.7,274.7C137.74,273.45 145.09,270.45 150.2,268.3C155.22,266.18 160.09,263.81 165.1,261.9C170.03,260.02 175.58,257.75 180,256.9C183.39,256.25 186.16,256.11 189.2,256.4C192.26,256.7 195.35,257.47 198.3,258.7C201.46,260.01 204.51,262.11 207.5,264.2C210.62,266.39 213.95,269.44 216.6,271.6C218.66,273.28 220.11,274.55 222.1,276.1C224.37,277.87 227.08,279.65 229.5,281.6C231.98,283.61 234.4,286.09 236.8,288C238.96,289.72 241.15,291.71 243.2,292.6C244.78,293.28 246.2,293.53 247.8,293.5C249.56,293.47 251.41,292.99 253.3,292.2C255.64,291.22 258.02,289.24 260.6,287.6C263.54,285.74 266.61,283.92 270,281.6C274.2,278.73 278.78,274.39 283.8,271.5C289.04,268.48 296.1,265.13 300.9,264C304.14,263.24 306.81,263.24 309.4,263.6C311.69,263.92 313.58,265.63 315.7,265.7C317.82,265.77 319.83,264.71 322.1,264C324.75,263.17 328.07,261.02 330.6,260.9C332.59,260.8 334.41,261.43 336,262.3C337.61,263.18 338.58,265.56 340.2,266.2C341.76,266.81 343.82,265.62 345.5,266.2C347.41,266.86 348.87,269.2 350.9,270.4C353.1,271.7 355.75,271.96 358.3,273.6C361.69,275.78 365.68,279.78 368.9,283.2C372.03,286.53 374.56,289.95 377.4,293.8C380.59,298.13 383.8,303.27 387,308L387,381.4L132,381.4Z" fill="#5cabc2" stroke="none"/>
<path d="M132,275.8C132.9,275.43 133.43,275.22 134.7,274.7C137.74,273.45 145.09,270.45 150.2,268.3C155.22,266.18 160.09,263.81 165.1,261.9C170.03,260.02 175.58,257.75 180,256.9C183.39,256.25 186.16,256.11 189.2,256.4C192.26,256.7 195.35,257.47 198.3,258.7C201.46,260.01 204.51,262.11 207.5,264.2C210.62,266.39 213.95,269.44 216.6,271.6C218.66,273.28 220.11,274.55 222.1,276.1C224.37,277.87 227.08,279.65 229.5,281.6C231.98,283.61 234.4,286.09 236.8,288C238.96,289.72 241.15,291.71 243.2,292.6C244.78,293.28 246.2,293.53 247.8,293.5C249.56,293.47 251.41,292.99 253.3,292.2C255.64,291.22 258.02,289.24 260.6,287.6C263.54,285.74 266.61,283.92 270,281.6C274.2,278.73 278.78,274.39 283.8,271.5C289.04,268.48 296.1,265.13 300.9,264C304.14,263.24 306.81,263.24 309.4,263.6C311.69,263.92 313.58,265.63 315.7,265.7C317.82,265.77 319.83,264.71 322.1,264C324.75,263.17 328.07,261.02 330.6,260.9C332.59,260.8 334.41,261.43 336,262.3C337.61,263.18 338.58,265.56 340.2,266.2C341.76,266.81 343.82,265.62 345.5,266.2C347.41,266.86 348.87,269.2 350.9,270.4C353.1,271.7 355.75,271.96 358.3,273.6C361.69,275.78 365.68,279.78 368.9,283.2C372.03,286.53 374.56,289.95 377.4,293.8C380.59,298.13 383.8,303.27 387,308" stroke="#14809f" stroke-width="2.7"/>
<path d="M132,320C132.9,319.8 133.43,319.67 134.7,319.4C137.74,318.75 145.49,316.93 150.2,316.2C154.08,315.6 157.18,315.29 160.9,315.1C164.95,314.89 169.87,315.95 173.6,315.1C176.81,314.37 179.54,312.86 182.1,311C184.77,309.07 186.5,305.6 189.2,303.6C191.9,301.6 195.17,299.98 198.3,299C201.28,298.06 204.46,297.54 207.5,297.7C210.56,297.86 213.56,299.25 216.6,300C219.66,300.75 222.99,301.96 225.8,302.2C228.11,302.4 230.02,302.2 232.2,301.8C234.58,301.36 237.07,300.27 239.5,299.5C241.93,298.73 244.49,298.21 246.8,297.2C249.09,296.2 250.99,294.97 253.3,293.5C256.12,291.71 259.5,289.13 262.4,287.1C265.05,285.25 267.11,283.87 270,281.8C273.93,278.99 278.78,274.59 283.8,271.7C289.04,268.68 296.1,265.33 300.9,264.2C304.14,263.44 306.81,263.44 309.4,263.8C311.69,264.12 313.58,265.83 315.7,265.9C317.82,265.97 319.83,264.91 322.1,264.2C324.75,263.37 328.07,261.22 330.6,261.1C332.59,261 334.41,261.63 336,262.5C337.61,263.38 338.58,265.76 340.2,266.4C341.76,267.01 343.82,265.82 345.5,266.4C347.41,267.06 348.87,269.4 350.9,270.6C353.1,271.9 355.75,272.16 358.3,273.8C361.69,275.98 365.68,279.98 368.9,283.4C372.03,286.73 374.56,290.15 377.4,294C380.59,298.33 383.8,303.47 387,308.2L387,381.4L132,381.4Z" fill="#ff94ad" stroke="none"/>
<path d="M132,320C132.9,319.8 133.43,319.67 134.7,319.4C137.74,318.75 145.49,316.93 150.2,316.2C154.08,315.6 157.18,315.29 160.9,315.1C164.95,314.89 169.87,315.95 173.6,315.1C176.81,314.37 179.54,312.86 182.1,311C184.77,309.07 186.5,305.6 189.2,303.6C191.9,301.6 195.17,299.98 198.3,299C201.28,298.06 204.46,297.54 207.5,297.7C210.56,297.86 213.56,299.25 216.6,300C219.66,300.75 222.99,301.96 225.8,302.2C228.11,302.4 230.02,302.2 232.2,301.8C234.58,301.36 237.07,300.27 239.5,299.5C241.93,298.73 244.49,298.21 246.8,297.2C249.09,296.2 250.99,294.97 253.3,293.5C256.12,291.71 259.5,289.13 262.4,287.1C265.05,285.25 267.11,283.87 270,281.8C273.93,278.99 278.78,274.59 283.8,271.7C289.04,268.68 296.1,265.33 300.9,264.2C304.14,263.44 306.81,263.44 309.4,263.8C311.69,264.12 313.58,265.83 315.7,265.9C317.82,265.97 319.83,264.91 322.1,264.2C324.75,263.37 328.07,261.22 330.6,261.1C332.59,261 334.41,261.63 336,262.5C337.61,263.38 338.58,265.76 340.2,266.4C341.76,267.01 343.82,265.82 345.5,266.4C347.41,267.06 348.87,269.4 350.9,270.6C353.1,271.9 355.75,272.16 358.3,273.8C361.69,275.98 365.68,279.98 368.9,283.4C372.03,286.73 374.56,290.15 377.4,294C380.59,298.33 383.8,303.47 387,308.2" stroke="#fb0a48" stroke-width="2.7"/>
<path d="M132,370.5C132.9,370.13 133.39,369.95 134.7,369.4C138.26,367.91 147.84,364.01 154.5,360.9C161.5,357.64 168.72,354.15 175.7,350.2C182.89,346.14 189.98,341.57 197,336.8C204.19,331.92 210.99,326.56 218.3,321.2C226.06,315.51 235.9,308.59 242.3,303.6C246.73,300.15 249.76,297.31 253.3,294.5C256.5,291.95 259.67,289.62 262.6,287.4C265.21,285.42 267.14,283.93 270,281.8C273.88,278.91 278.78,274.59 283.8,271.7C289.04,268.68 296.1,265.33 300.9,264.2C304.14,263.44 306.81,263.44 309.4,263.8C311.69,264.12 313.58,265.83 315.7,265.9C317.82,265.97 319.83,264.91 322.1,264.2C324.75,263.37 328.07,261.22 330.6,261.1C332.59,261 334.41,261.63 336,262.5C337.61,263.38 338.58,265.76 340.2,266.4C341.76,267.01 343.82,265.82 345.5,266.4C347.41,267.06 348.87,269.4 350.9,270.6C353.1,271.9 355.75,272.16 358.3,273.8C361.69,275.98 365.68,279.98 368.9,283.4C372.03,286.73 374.56,290.15 377.4,294C380.59,298.33 383.8,303.47 387,308.2L387,381.4L132,381.4Z" fill="#fecb8b" stroke="none"/>
<path d="M132,370.5C132.9,370.13 133.39,369.95 134.7,369.4C138.26,367.91 147.84,364.01 154.5,360.9C161.5,357.64 168.72,354.15 175.7,350.2C182.89,346.14 189.98,341.57 197,336.8C204.19,331.92 210.99,326.56 218.3,321.2C226.06,315.51 235.9,308.59 242.3,303.6C246.73,300.15 249.76,297.31 253.3,294.5C256.5,291.95 259.67,289.62 262.6,287.4C265.21,285.42 267.14,283.93 270,281.8C273.88,278.91 278.78,274.59 283.8,271.7C289.04,268.68 296.1,265.33 300.9,264.2C304.14,263.44 306.81,263.44 309.4,263.8C311.69,264.12 313.58,265.83 315.7,265.9C317.82,265.97 319.83,264.91 322.1,264.2C324.75,263.37 328.07,261.22 330.6,261.1C332.59,261 334.41,261.63 336,262.5C337.61,263.38 338.58,265.76 340.2,266.4C341.76,267.01 343.82,265.82 345.5,266.4C347.41,267.06 348.87,269.4 350.9,270.6C353.1,271.9 355.75,272.16 358.3,273.8C361.69,275.98 365.68,279.98 368.9,283.4C372.03,286.73 374.56,290.15 377.4,294C380.59,298.33 383.8,303.47 387,308.2" stroke="#ff8b00" stroke-width="2.7"/>
<path d="M267,381C268.37,379.6 269.54,378.57 271.1,376.8C273.48,374.11 276.51,369.66 279.6,366.2C282.85,362.55 286.87,359.69 290.2,355.5C294.04,350.66 297.59,344.01 300.9,338.5C303.96,333.4 306.29,327.77 309.4,323.6C312.03,320.06 314.77,316.42 317.9,314.7C320.53,313.26 324.2,314.2 326.4,313C328.24,312 329.34,310.56 330.6,308.7C332.27,306.24 333.03,300.8 334.9,299.1C336.12,298 337.69,297.7 339.1,297.7C340.52,297.7 342.11,299.54 343.4,299.1C345.08,298.53 346.17,293.97 347.7,292.8C348.72,292.02 349.91,291.46 350.9,291.7C352.04,291.97 352.8,294.86 354,294.9C355.53,294.95 357.88,289.9 359.4,290C360.66,290.08 361.3,293.19 362.6,293.8C363.8,294.36 365.51,293.23 366.8,293.8C368.39,294.5 369.51,297.89 371.1,298.5C372.4,299 374.13,297.51 375.3,298.1C376.71,298.81 377.12,301.33 378.5,303.4C380.6,306.56 384.17,311.13 387,315L387,381.4L267,381.4Z" fill="#fef69b" stroke="none"/>
<path d="M267,381C268.37,379.6 269.54,378.57 271.1,376.8C273.48,374.11 276.51,369.66 279.6,366.2C282.85,362.55 286.87,359.69 290.2,355.5C294.04,350.66 297.59,344.01 300.9,338.5C303.96,333.4 306.29,327.77 309.4,323.6C312.03,320.06 314.77,316.42 317.9,314.7C320.53,313.26 324.2,314.2 326.4,313C328.24,312 329.34,310.56 330.6,308.7C332.27,306.24 333.03,300.8 334.9,299.1C336.12,298 337.69,297.7 339.1,297.7C340.52,297.7 342.11,299.54 343.4,299.1C345.08,298.53 346.17,293.97 347.7,292.8C348.72,292.02 349.91,291.46 350.9,291.7C352.04,291.97 352.8,294.86 354,294.9C355.53,294.95 357.88,289.9 359.4,290C360.66,290.08 361.3,293.19 362.6,293.8C363.8,294.36 365.51,293.23 366.8,293.8C368.39,294.5 369.51,297.89 371.1,298.5C372.4,299 374.13,297.51 375.3,298.1C376.71,298.81 377.12,301.33 378.5,303.4C380.6,306.56 384.17,311.13 387,315" stroke="#ffec00" stroke-width="2.7"/>
</g>
<rect x="134.7" y="247" width="249.6" height="131.4" fill="none" stroke="#0a0a0a" stroke-width="1.6"/>
<path d="M128.7,378.3H134.7M124.5,360.3H134.7M128.7,342.3H134.7M124.5,324.3H134.7M128.7,306.3H134.7M124.5,288.3H134.7M128.7,270.3H134.7M124.5,252.3H134.7M134.7,378.4V384.4M158.13,378.4V384.4M171.83,378.4V384.4M181.56,378.4V384.4M189.1,378.4V388.6M213,378.4V384.4M236.9,378.4V384.4M250.89,378.4V384.4M260.81,378.4V384.4M268.5,378.4V388.6M292.34,378.4V384.4M316.18,378.4V384.4M330.13,378.4V384.4M340.02,378.4V384.4M347.7,378.4V388.6M371.54,378.4V384.4" stroke="#0a0a0a" stroke-width="1.3" fill="none"/>
<g fill="#3c3c3c" font-family="NanumGothic, 'Liberation Sans', sans-serif">
<text x="91.9" y="365.7" font-size="15.0">10<tspan dy="-5.1" font-size="10.2">-12</tspan></text>
<text x="91.9" y="329.7" font-size="15.0">10<tspan dy="-5.1" font-size="10.2">-10</tspan></text>
<text x="91.9" y="293.7" font-size="15.0">10<tspan dy="-5.1" font-size="10.2">-8</tspan></text>
<text x="91.9" y="257.7" font-size="15.0">10<tspan dy="-5.1" font-size="10.2">-6</tspan></text>
<text x="188.7" y="405.9" text-anchor="middle" font-size="15">10<tspan dy="-5.4" font-size="10.2">1</tspan></text>
<text x="268.1" y="405.9" text-anchor="middle" font-size="15">10<tspan dy="-5.4" font-size="10.2">2</tspan></text>
<text x="347.3" y="405.9" text-anchor="middle" font-size="15">10<tspan dy="-5.4" font-size="10.2">3</tspan></text>
</g>
<clipPath id="cE"><rect x="442.2" y="242" width="239.1" height="135.4"/></clipPath>
<g clip-path="url(#cE)" fill="none" stroke-linejoin="round" stroke-linecap="butt">
<path d="M439,246.6C440.07,246.6 440.72,246.61 442.2,246.6C445.58,246.58 453.23,246.27 458.8,246.4C464.46,246.53 470.22,246.77 475.9,247.4C481.59,248.03 487.69,248.9 492.9,250.2C497.49,251.35 501.47,252.54 505.6,254.5C509.98,256.58 514.17,259.69 518.4,262.5C522.71,265.36 527.06,268.94 531.2,271.5C534.83,273.74 538.42,276.05 541.8,277.2C544.57,278.14 547.09,278.47 549.8,278.5C552.59,278.53 555.65,277.98 558.3,277.3C560.76,276.67 562.72,275.74 565.2,274.7C568.2,273.45 571.86,271.83 575,270.2C578.05,268.62 580.28,266.64 583.8,265.1C588.47,263.05 595.83,260.84 600.9,259.8C604.81,259 607.98,258.52 611.5,258.7C615.05,258.88 618.36,259.61 622.1,260.9C626.74,262.5 632.11,265.52 637,268.3C642.05,271.17 647.17,274.63 651.9,277.9C656.38,281 660.75,283.98 664.7,287.4C668.54,290.73 671.92,294.77 675.3,298.1C678.33,301.09 681.1,303.7 684,306.5L684,380.4L439,380.4Z" fill="#824f91" stroke="none"/>
<path d="M439,246.6C440.07,246.6 440.72,246.61 442.2,246.6C445.58,246.58 453.23,246.27 458.8,246.4C464.46,246.53 470.22,246.77 475.9,247.4C481.59,248.03 487.69,248.9 492.9,250.2C497.49,251.35 501.47,252.54 505.6,254.5C509.98,256.58 514.17,259.69 518.4,262.5C522.71,265.36 527.06,268.94 531.2,271.5C534.83,273.74 538.42,276.05 541.8,277.2C544.57,278.14 547.09,278.47 549.8,278.5C552.59,278.53 555.65,277.98 558.3,277.3C560.76,276.67 562.72,275.74 565.2,274.7C568.2,273.45 571.86,271.83 575,270.2C578.05,268.62 580.28,266.64 583.8,265.1C588.47,263.05 595.83,260.84 600.9,259.8C604.81,259 607.98,258.52 611.5,258.7C615.05,258.88 618.36,259.61 622.1,260.9C626.74,262.5 632.11,265.52 637,268.3C642.05,271.17 647.17,274.63 651.9,277.9C656.38,281 660.75,283.98 664.7,287.4C668.54,290.73 671.92,294.77 675.3,298.1C678.33,301.09 681.1,303.7 684,306.5" stroke="#4b0a62" stroke-width="2.7"/>
<path d="M439,257.3C440.07,257.07 440.72,256.92 442.2,256.6C445.58,255.86 453.2,253.88 458.8,253C464.43,252.11 470.21,251.23 475.9,251.3C481.58,251.37 487.7,252.21 492.9,253.4C497.5,254.45 501.4,256.04 505.6,257.7C509.9,259.4 514.22,261.19 518.4,263.5C522.77,265.92 527.09,269.49 531.2,272C534.85,274.23 538.41,276.81 541.8,277.9C544.56,278.78 547.1,278.85 549.8,278.8C552.59,278.74 555.65,278.23 558.3,277.5C560.76,276.82 562.71,275.78 565.2,274.7C568.19,273.41 571.86,271.83 575,270.2C578.05,268.62 580.28,266.64 583.8,265.1C588.47,263.05 595.83,260.84 600.9,259.8C604.81,259 607.98,258.52 611.5,258.7C615.05,258.88 618.36,259.61 622.1,260.9C626.74,262.5 632.11,265.52 637,268.3C642.05,271.17 647.17,274.63 651.9,277.9C656.38,281 660.75,283.98 664.7,287.4C668.54,290.73 671.92,294.77 675.3,298.1C678.33,301.09 681.1,303.7 684,306.5L684,380.4L439,380.4Z" fill="#5cabc2" stroke="none"/>
<path d="M439,257.3C440.07,257.07 440.72,256.92 442.2,256.6C445.58,255.86 453.2,253.88 458.8,253C464.43,252.11 470.21,251.23 475.9,251.3C481.58,251.37 487.7,252.21 492.9,253.4C497.5,254.45 501.4,256.04 505.6,257.7C509.9,259.4 514.22,261.19 518.4,263.5C522.77,265.92 527.09,269.49 531.2,272C534.85,274.23 538.41,276.81 541.8,277.9C544.56,278.78 547.1,278.85 549.8,278.8C552.59,278.74 555.65,278.23 558.3,277.5C560.76,276.82 562.71,275.78 565.2,274.7C568.19,273.41 571.86,271.83 575,270.2C578.05,268.62 580.28,266.64 583.8,265.1C588.47,263.05 595.83,260.84 600.9,259.8C604.81,259 607.98,258.52 611.5,258.7C615.05,258.88 618.36,259.61 622.1,260.9C626.74,262.5 632.11,265.52 637,268.3C642.05,271.17 647.17,274.63 651.9,277.9C656.38,281 660.75,283.98 664.7,287.4C668.54,290.73 671.92,294.77 675.3,298.1C678.33,301.09 681.1,303.7 684,306.5" stroke="#14809f" stroke-width="2.7"/>
<path d="M439,295.2C440.07,295.1 440.79,295.05 442.2,294.9C444.99,294.6 450.27,293.82 454.6,293.4C459.33,292.94 465.03,293.36 469.5,292.3C473.42,291.37 476.35,289.11 480.1,287.9C484.12,286.61 489.06,285.01 492.9,284.9C496.01,284.81 498.51,285.32 501.4,286.4C504.86,287.7 508.59,291.11 512,292.8C514.93,294.26 517.83,295.96 520.5,296.2C522.75,296.4 524.7,295.78 526.9,294.9C529.63,293.81 532.23,291.37 535.4,289.6C539.19,287.48 543.77,285.39 548.2,283.2C552.97,280.84 558.4,278.14 563.1,275.9C567.28,273.91 571.37,272.28 575,270.4C578.2,268.74 580.28,266.84 583.8,265.3C588.47,263.25 595.83,261.04 600.9,260C604.81,259.2 607.98,258.72 611.5,258.9C615.05,259.08 618.36,259.81 622.1,261.1C626.74,262.7 632.11,265.72 637,268.5C642.05,271.37 647.17,274.83 651.9,278.1C656.38,281.2 660.75,284.18 664.7,287.6C668.54,290.93 671.92,294.97 675.3,298.3C678.33,301.29 681.1,303.9 684,306.7L684,380.4L439,380.4Z" fill="#ff94ad" stroke="none"/>
<path d="M439,295.2C440.07,295.1 440.79,295.05 442.2,294.9C444.99,294.6 450.27,293.82 454.6,293.4C459.33,292.94 465.03,293.36 469.5,292.3C473.42,291.37 476.35,289.11 480.1,287.9C484.12,286.61 489.06,285.01 492.9,284.9C496.01,284.81 498.51,285.32 501.4,286.4C504.86,287.7 508.59,291.11 512,292.8C514.93,294.26 517.83,295.96 520.5,296.2C522.75,296.4 524.7,295.78 526.9,294.9C529.63,293.81 532.23,291.37 535.4,289.6C539.19,287.48 543.77,285.39 548.2,283.2C552.97,280.84 558.4,278.14 563.1,275.9C567.28,273.91 571.37,272.28 575,270.4C578.2,268.74 580.28,266.84 583.8,265.3C588.47,263.25 595.83,261.04 600.9,260C604.81,259.2 607.98,258.72 611.5,258.9C615.05,259.08 618.36,259.81 622.1,261.1C626.74,262.7 632.11,265.72 637,268.5C642.05,271.37 647.17,274.83 651.9,278.1C656.38,281.2 660.75,284.18 664.7,287.6C668.54,290.93 671.92,294.97 675.3,298.3C678.33,301.29 681.1,303.9 684,306.7" stroke="#fb0a48" stroke-width="2.7"/>
<path d="M439,320.5C440.07,320.27 440.71,320.08 442.2,319.8C445.57,319.17 452.9,317.8 458.8,317.2C465.44,316.53 473.92,316.87 480.1,316.2C484.93,315.67 488.71,315.22 492.9,314C497.21,312.75 501.12,310.88 505.6,308.7C510.95,306.09 516.69,302.45 522.7,299.1C529.38,295.38 536.82,291.27 543.9,287.4C550.98,283.53 559.46,279 565.2,275.9C569.09,273.8 571.84,272.4 575,270.6C578.03,268.87 580.27,266.88 583.8,265.3C588.46,263.21 595.83,261.04 600.9,260C604.81,259.2 607.98,258.72 611.5,258.9C615.05,259.08 618.36,259.81 622.1,261.1C626.74,262.7 632.11,265.72 637,268.5C642.05,271.37 647.17,274.83 651.9,278.1C656.38,281.2 660.75,284.18 664.7,287.6C668.54,290.93 671.92,294.97 675.3,298.3C678.33,301.29 681.1,303.9 684,306.7L684,380.4L439,380.4Z" fill="#fecb8b" stroke="none"/>
<path d="M439,320.5C440.07,320.27 440.71,320.08 442.2,319.8C445.57,319.17 452.9,317.8 458.8,317.2C465.44,316.53 473.92,316.87 480.1,316.2C484.93,315.67 488.71,315.22 492.9,314C497.21,312.75 501.12,310.88 505.6,308.7C510.95,306.09 516.69,302.45 522.7,299.1C529.38,295.38 536.82,291.27 543.9,287.4C550.98,283.53 559.46,279 565.2,275.9C569.09,273.8 571.84,272.4 575,270.6C578.03,268.87 580.27,266.88 583.8,265.3C588.46,263.21 595.83,261.04 600.9,260C604.81,259.2 607.98,258.72 611.5,258.9C615.05,259.08 618.36,259.81 622.1,261.1C626.74,262.7 632.11,265.72 637,268.5C642.05,271.37 647.17,274.83 651.9,278.1C656.38,281.2 660.75,284.18 664.7,287.6C668.54,290.93 671.92,294.97 675.3,298.3C678.33,301.29 681.1,303.9 684,306.7" stroke="#ff8b00" stroke-width="2.7"/>
<path d="M584,379C586.33,377.73 588.17,376.19 591,375.2C594.8,373.87 600.7,374.06 605.1,372.7C609.27,371.41 613,369.57 616.8,367.4C620.81,365.11 624.6,361.92 628.5,359.2C632.4,356.49 636.26,353.66 640.2,351.1C644.06,348.59 648.09,345.38 651.9,344C655.06,342.86 658.21,342.47 661.2,342.6C664.03,342.73 666.55,343.45 669.4,344.6C672.92,346.02 677.86,349.42 680.5,351.1C682.02,352.06 682.83,352.7 684,353.5L684,380.4L584,380.4Z" fill="#fef69b" stroke="none"/>
<path d="M584,379C586.33,377.73 588.17,376.19 591,375.2C594.8,373.87 600.7,374.06 605.1,372.7C609.27,371.41 613,369.57 616.8,367.4C620.81,365.11 624.6,361.92 628.5,359.2C632.4,356.49 636.26,353.66 640.2,351.1C644.06,348.59 648.09,345.38 651.9,344C655.06,342.86 658.21,342.47 661.2,342.6C664.03,342.73 666.55,343.45 669.4,344.6C672.92,346.02 677.86,349.42 680.5,351.1C682.02,352.06 682.83,352.7 684,353.5" stroke="#ffec00" stroke-width="2.7"/>
</g>
<rect x="442.2" y="242" width="239.1" height="135.4" fill="none" stroke="#0a0a0a" stroke-width="1.6"/>
<path d="M436.2,377.82H442.2M432,362.26H442.2M436.2,346.7H442.2M432,331.14H442.2M436.2,315.58H442.2M432,300.02H442.2M436.2,284.46H442.2M432,268.9H442.2M436.2,253.34H442.2M442.2,377.4V383.4M465.2,377.4V383.4M478.65,377.4V383.4M488.2,377.4V383.4M495.6,377.4V387.6M518.18,377.4V383.4M540.75,377.4V383.4M553.96,377.4V383.4M563.33,377.4V383.4M570.6,377.4V387.6M593.81,377.4V383.4M617.02,377.4V383.4M630.6,377.4V383.4M640.23,377.4V383.4M647.7,377.4V387.6M670.91,377.4V383.4" stroke="#0a0a0a" stroke-width="1.3" fill="none"/>
<g fill="#3c3c3c" font-family="NanumGothic, 'Liberation Sans', sans-serif">
<text x="399.4" y="367.66" font-size="15.0">10<tspan dy="-5.1" font-size="10.2">-14</tspan></text>
<text x="399.4" y="336.54" font-size="15.0">10<tspan dy="-5.1" font-size="10.2">-12</tspan></text>
<text x="399.4" y="305.42" font-size="15.0">10<tspan dy="-5.1" font-size="10.2">-10</tspan></text>
<text x="399.4" y="274.3" font-size="15.0">10<tspan dy="-5.1" font-size="10.2">-8</tspan></text>
<text x="495.2" y="404.9" text-anchor="middle" font-size="15">10<tspan dy="-5.4" font-size="10.2">1</tspan></text>
<text x="570.2" y="404.9" text-anchor="middle" font-size="15">10<tspan dy="-5.4" font-size="10.2">2</tspan></text>
<text x="647.3" y="404.9" text-anchor="middle" font-size="15">10<tspan dy="-5.4" font-size="10.2">3</tspan></text>
</g>
<clipPath id="cF"><rect x="740.6" y="241.7" width="238.8" height="132.6"/></clipPath>
<g clip-path="url(#cF)" fill="none" stroke-linejoin="round" stroke-linecap="butt">
<path d="M738,248C738.87,248.03 739.4,248.01 740.6,248.1C743.31,248.31 749.11,249.2 753.8,249.6C759.13,250.06 765.66,249.79 770.9,250.6C775.48,251.31 779.42,252.35 783.6,253.8C787.92,255.29 792.21,257.31 796.4,259.5C800.71,261.76 805.15,264.37 809.1,267.2C812.93,269.95 816.72,273.48 819.8,276.2C822.23,278.34 823.91,280.78 826.2,282.1C828.21,283.26 830.46,284.03 832.6,284.1C834.7,284.17 836.2,283.36 838.9,282.6C843.92,281.19 854.45,277.48 860.2,275.7C864.08,274.5 866.19,273.53 870,272.8C875.08,271.82 882.36,271.18 888.1,271.1C893.31,271.03 898.11,271.02 903,272.1C908.08,273.22 913.44,275.19 918,277.9C922.58,280.62 926.39,284.52 930.4,288.4C934.68,292.54 938.76,297.26 942.8,302.1C947.04,307.17 951.07,312.83 955.2,318.2C959.33,323.57 963.59,329.03 967.6,334.3C971.44,339.35 976.19,345.79 978.8,349.2C980.18,351 980.93,351.93 982,353.3L982,377.3L738,377.3Z" fill="#824f91" stroke="none"/>
<path d="M738,248C738.87,248.03 739.4,248.01 740.6,248.1C743.31,248.31 749.11,249.2 753.8,249.6C759.13,250.06 765.66,249.79 770.9,250.6C775.48,251.31 779.42,252.35 783.6,253.8C787.92,255.29 792.21,257.31 796.4,259.5C800.71,261.76 805.15,264.37 809.1,267.2C812.93,269.95 816.72,273.48 819.8,276.2C822.23,278.34 823.91,280.78 826.2,282.1C828.21,283.26 830.46,284.03 832.6,284.1C834.7,284.17 836.2,283.36 838.9,282.6C843.92,281.19 854.45,277.48 860.2,275.7C864.08,274.5 866.19,273.53 870,272.8C875.08,271.82 882.36,271.18 888.1,271.1C893.31,271.03 898.11,271.02 903,272.1C908.08,273.22 913.44,275.19 918,277.9C922.58,280.62 926.39,284.52 930.4,288.4C934.68,292.54 938.76,297.26 942.8,302.1C947.04,307.17 951.07,312.83 955.2,318.2C959.33,323.57 963.59,329.03 967.6,334.3C971.44,339.35 976.19,345.79 978.8,349.2C980.18,351 980.93,351.93 982,353.3" stroke="#4b0a62" stroke-width="2.7"/>
<path d="M738,254.8C738.87,254.7 739.4,254.64 740.6,254.5C743.3,254.19 749.11,253.21 753.8,253C759.12,252.76 765.64,252.91 770.9,253.4C775.46,253.83 779.46,254.16 783.6,255.5C787.97,256.92 792.18,259.59 796.4,261.9C800.69,264.25 805.15,266.69 809.1,269.5C812.94,272.23 816.66,275.98 819.8,278.5C822.18,280.41 823.94,282.41 826.2,283.4C828.23,284.29 830.48,284.57 832.6,284.5C834.72,284.43 836.2,283.78 838.9,283C843.93,281.54 854.45,277.54 860.2,275.7C864.08,274.46 866.19,273.53 870,272.8C875.08,271.82 882.36,271.18 888.1,271.1C893.31,271.03 898.11,271.02 903,272.1C908.08,273.22 913.44,275.19 918,277.9C922.58,280.62 926.39,284.52 930.4,288.4C934.68,292.54 938.76,297.26 942.8,302.1C947.04,307.17 951.07,312.83 955.2,318.2C959.33,323.57 963.59,329.03 967.6,334.3C971.44,339.35 976.19,345.79 978.8,349.2C980.18,351 980.93,351.93 982,353.3L982,377.3L738,377.3Z" fill="#5cabc2" stroke="none"/>
<path d="M738,254.8C738.87,254.7 739.4,254.64 740.6,254.5C743.3,254.19 749.11,253.21 753.8,253C759.12,252.76 765.64,252.91 770.9,253.4C775.46,253.83 779.46,254.16 783.6,255.5C787.97,256.92 792.18,259.59 796.4,261.9C800.69,264.25 805.15,266.69 809.1,269.5C812.94,272.23 816.66,275.98 819.8,278.5C822.18,280.41 823.94,282.41 826.2,283.4C828.23,284.29 830.48,284.57 832.6,284.5C834.72,284.43 836.2,283.78 838.9,283C843.93,281.54 854.45,277.54 860.2,275.7C864.08,274.46 866.19,273.53 870,272.8C875.08,271.82 882.36,271.18 888.1,271.1C893.31,271.03 898.11,271.02 903,272.1C908.08,273.22 913.44,275.19 918,277.9C922.58,280.62 926.39,284.52 930.4,288.4C934.68,292.54 938.76,297.26 942.8,302.1C947.04,307.17 951.07,312.83 955.2,318.2C959.33,323.57 963.59,329.03 967.6,334.3C971.44,339.35 976.19,345.79 978.8,349.2C980.18,351 980.93,351.93 982,353.3" stroke="#14809f" stroke-width="2.7"/>
<path d="M738,293.7C738.87,293.73 739.4,293.73 740.6,293.8C743.31,293.96 749.63,294.73 753.8,294.9C757.55,295.06 760.97,295.36 764.5,294.9C768.07,294.44 771.37,292.81 775.1,292.1C779.14,291.33 783.85,290.42 787.9,290.6C791.61,290.76 795.4,292.24 798.5,292.8C800.89,293.24 802.62,293.82 804.9,293.8C807.53,293.77 810.31,293.06 813.4,292.3C817.26,291.35 821.96,289.68 826.2,288.2C830.46,286.71 834.11,285.15 838.9,283.4C845.08,281.15 854.44,277.76 860.2,275.9C864.07,274.65 866.19,273.73 870,273C875.08,272.02 882.36,271.38 888.1,271.3C893.31,271.23 898.11,271.22 903,272.3C908.08,273.42 913.44,275.39 918,278.1C922.58,280.82 926.39,284.72 930.4,288.6C934.68,292.74 938.76,297.46 942.8,302.3C947.04,307.37 951.07,313.03 955.2,318.4C959.33,323.77 963.59,329.23 967.6,334.5C971.44,339.55 976.19,345.99 978.8,349.4C980.18,351.2 980.93,352.13 982,353.5L982,377.3L738,377.3Z" fill="#ff94ad" stroke="none"/>
<path d="M738,293.7C738.87,293.73 739.4,293.73 740.6,293.8C743.31,293.96 749.63,294.73 753.8,294.9C757.55,295.06 760.97,295.36 764.5,294.9C768.07,294.44 771.37,292.81 775.1,292.1C779.14,291.33 783.85,290.42 787.9,290.6C791.61,290.76 795.4,292.24 798.5,292.8C800.89,293.24 802.62,293.82 804.9,293.8C807.53,293.77 810.31,293.06 813.4,292.3C817.26,291.35 821.96,289.68 826.2,288.2C830.46,286.71 834.11,285.15 838.9,283.4C845.08,281.15 854.44,277.76 860.2,275.9C864.07,274.65 866.19,273.73 870,273C875.08,272.02 882.36,271.38 888.1,271.3C893.31,271.23 898.11,271.22 903,272.3C908.08,273.42 913.44,275.39 918,278.1C922.58,280.82 926.39,284.72 930.4,288.6C934.68,292.74 938.76,297.46 942.8,302.3C947.04,307.37 951.07,313.03 955.2,318.4C959.33,323.77 963.59,329.23 967.6,334.5C971.44,339.55 976.19,345.99 978.8,349.4C980.18,351.2 980.93,352.13 982,353.5" stroke="#fb0a48" stroke-width="2.7"/>
<path d="M738,297C738.87,297.23 739.4,297.37 740.6,297.7C743.31,298.43 749.45,299.99 753.8,301.3C758.12,302.6 762.54,304.14 766.6,305.5C770.3,306.74 773.63,308.93 777.2,309.1C780.73,309.27 784.23,307.79 787.9,306.6C792.01,305.27 796.06,303.24 800.6,301.3C805.89,299.04 811.69,296.43 817.7,293.8C824.39,290.87 831.8,287.49 838.9,284.5C845.97,281.52 854.42,277.92 860.2,275.9C864.05,274.56 866.19,273.73 870,273C875.08,272.02 882.36,271.38 888.1,271.3C893.31,271.23 898.11,271.22 903,272.3C908.08,273.42 913.44,275.39 918,278.1C922.58,280.82 926.39,284.72 930.4,288.6C934.68,292.74 938.76,297.46 942.8,302.3C947.04,307.37 951.07,313.03 955.2,318.4C959.33,323.77 963.59,329.23 967.6,334.5C971.44,339.55 976.19,345.99 978.8,349.4C980.18,351.2 980.93,352.13 982,353.5L982,377.3L738,377.3Z" fill="#fecb8b" stroke="none"/>
<path d="M738,297C738.87,297.23 739.4,297.37 740.6,297.7C743.31,298.43 749.45,299.99 753.8,301.3C758.12,302.6 762.54,304.14 766.6,305.5C770.3,306.74 773.63,308.93 777.2,309.1C780.73,309.27 784.23,307.79 787.9,306.6C792.01,305.27 796.06,303.24 800.6,301.3C805.89,299.04 811.69,296.43 817.7,293.8C824.39,290.87 831.8,287.49 838.9,284.5C845.97,281.52 854.42,277.92 860.2,275.9C864.05,274.56 866.19,273.73 870,273C875.08,272.02 882.36,271.38 888.1,271.3C893.31,271.23 898.11,271.22 903,272.3C908.08,273.42 913.44,275.39 918,278.1C922.58,280.82 926.39,284.72 930.4,288.6C934.68,292.74 938.76,297.46 942.8,302.3C947.04,307.37 951.07,313.03 955.2,318.4C959.33,323.77 963.59,329.23 967.6,334.5C971.44,339.55 976.19,345.99 978.8,349.4C980.18,351.2 980.93,352.13 982,353.5" stroke="#ff8b00" stroke-width="2.7"/>
<path d="M801,377C802.67,375.67 803.92,374.43 806,373C809.02,370.93 813.21,368.74 817.7,366.2C823.71,362.8 831.79,358.25 838.9,354.5C845.96,350.78 854.41,346.37 860.2,343.8C864.04,342.09 866.43,341.29 870,340C874.21,338.47 879.35,336.64 883.9,335.3C888.2,334.03 892.87,333.57 896.6,332.1C899.81,330.83 901.99,328.3 905.1,327.4C908.36,326.46 912.51,327.54 915.8,326.8C918.83,326.12 921.06,324.01 924.2,323.4C927.87,322.69 932.49,322.94 936.6,323.4C940.76,323.86 945.2,324.73 949,326.2C952.6,327.59 955.85,329.48 958.9,331.8C962.07,334.21 965.09,337.35 967.6,340.5C970.04,343.57 971.8,347.43 973.8,350.4C975.51,352.94 977.33,355.21 978.8,357.3C980,359.01 980.93,360.43 982,362L982,377.3L801,377.3Z" fill="#fef69b" stroke="none"/>
<path d="M801,377C802.67,375.67 803.92,374.43 806,373C809.02,370.93 813.21,368.74 817.7,366.2C823.71,362.8 831.79,358.25 838.9,354.5C845.96,350.78 854.41,346.37 860.2,343.8C864.04,342.09 866.43,341.29 870,340C874.21,338.47 879.35,336.64 883.9,335.3C888.2,334.03 892.87,333.57 896.6,332.1C899.81,330.83 901.99,328.3 905.1,327.4C908.36,326.46 912.51,327.54 915.8,326.8C918.83,326.12 921.06,324.01 924.2,323.4C927.87,322.69 932.49,322.94 936.6,323.4C940.76,323.86 945.2,324.73 949,326.2C952.6,327.59 955.85,329.48 958.9,331.8C962.07,334.21 965.09,337.35 967.6,340.5C970.04,343.57 971.8,347.43 973.8,350.4C975.51,352.94 977.33,355.21 978.8,357.3C980,359.01 980.93,360.43 982,362" stroke="#ffec00" stroke-width="2.7"/>
</g>
<rect x="740.6" y="241.7" width="238.8" height="132.6" fill="none" stroke="#0a0a0a" stroke-width="1.6"/>
<path d="M734.6,374.75H740.6M730.4,354.88H740.6M734.6,335.01H740.6M730.4,315.14H740.6M734.6,295.27H740.6M730.4,275.4H740.6M734.6,255.53H740.6M740.6,374.3V380.3M763.38,374.3V380.3M776.71,374.3V380.3M786.17,374.3V380.3M793.5,374.3V384.5M816.2,374.3V380.3M838.9,374.3V380.3M852.17,374.3V380.3M861.59,374.3V380.3M868.9,374.3V384.5M891.99,374.3V380.3M915.08,374.3V380.3M928.58,374.3V380.3M938.17,374.3V380.3M945.6,374.3V384.5M968.69,374.3V380.3" stroke="#0a0a0a" stroke-width="1.3" fill="none"/>
<g fill="#3c3c3c" font-family="NanumGothic, 'Liberation Sans', sans-serif">
<text x="697.8" y="360.28" font-size="15.0">10<tspan dy="-5.1" font-size="10.2">-12</tspan></text>
<text x="697.8" y="320.54" font-size="15.0">10<tspan dy="-5.1" font-size="10.2">-10</tspan></text>
<text x="697.8" y="280.8" font-size="15.0">10<tspan dy="-5.1" font-size="10.2">-8</tspan></text>
<text x="791.7" y="399.1" text-anchor="middle" font-size="13.8" letter-spacing="0.4" font-weight="400" fill="#444" font-family="'Liberation Sans', sans-serif">10</text>
<text x="867.1" y="399.1" text-anchor="middle" font-size="13.8" letter-spacing="0.4" font-weight="400" fill="#444" font-family="'Liberation Sans', sans-serif">100</text>
<text x="943.8" y="399.1" text-anchor="middle" font-size="13.8" letter-spacing="0.4" font-weight="400" fill="#444" font-family="'Liberation Sans', sans-serif">1 000</text>
</g>
<clipPath id="cG"><rect x="134.7" y="448.5" width="249.6" height="135.1"/></clipPath>
<g clip-path="url(#cG)" fill="none" stroke-linejoin="round" stroke-linecap="butt">
<path d="M134.7,456C152.63,456 177.53,454.62 188.5,456C193.45,456.62 195.41,457.68 199.1,458.7C203.18,459.82 207.69,460.9 211.9,462.5C216.23,464.15 220.43,466.54 224.7,468.5C228.93,470.44 233.08,472.85 237.4,474.2C241.58,475.51 245.95,476.2 250.2,476.6C254.35,476.99 258.64,476.88 262.6,476.6C266.28,476.34 269.66,475.42 273.2,475.1C276.73,474.78 280.78,474.22 283.8,474.7C286.19,475.08 287.93,476.23 290,477" stroke="#4b0a62" stroke-width="2.7"/>
<path d="M134.7,475.7C139.87,474.67 145.08,473.52 150.2,472.6C155.21,471.7 160.54,470.56 165.1,470.2C168.92,469.89 172.69,469.45 175.7,470.2C178.19,470.82 180.32,472.34 182.1,473.6C183.58,474.65 184.57,475.87 185.8,477" stroke="#14809f" stroke-width="2.7" stroke-dasharray="5,3"/>
<path d="M187.5,477C187.83,476.37 187.96,475.91 188.5,475.1C189.67,473.33 192.31,468.97 194.9,467.2C197.33,465.54 200.37,464.97 203.4,464.5C206.7,463.99 210.55,463.69 214,464.5C217.66,465.36 220.97,468.01 224.7,469.8C228.74,471.74 233.07,474.35 237.4,475.7C241.57,477 245.95,477.69 250.2,477.9C254.35,478.1 258.64,477.42 262.6,477C266.28,476.61 269.66,475.83 273.2,475.5C276.73,475.17 280.78,474.49 283.8,475C286.19,475.41 287.93,476.67 290,477.5" stroke="#14809f" stroke-width="2.7"/>
<path d="M134.7,510.2C137.73,508.07 140.22,506.04 143.8,503.8C148.54,500.83 155.34,497.04 160.9,494.3C165.95,491.81 170.87,489.46 175.7,487.9C180.05,486.5 184.65,485.33 188.5,485.1C191.61,484.91 194.76,484.83 197,485.9C198.95,486.83 200,488.97 201.5,490.5" stroke="#fb0a48" stroke-width="2.7" stroke-dasharray="5,3"/>
<path d="M202.6,493C203,492.17 203.15,491.49 203.8,490.5C204.98,488.71 207.2,485.14 209.8,483.6C212.63,481.93 217.05,481.4 220.4,481.3C223.38,481.21 226.29,482.01 228.9,482.6C231.2,483.12 233.22,484.6 235.3,484.5C237.35,484.41 238.99,482.85 241.3,482.1C244.31,481.12 248.35,480.22 251.9,479.4C255.45,478.58 258.88,477.92 262.6,477.2C266.65,476.42 271.48,475.18 275.3,474.9C278.4,474.68 281.26,474.42 283.8,475.2C286.19,475.93 288.57,477.52 290.2,479.2C291.69,480.74 292.71,482.66 293.4,484.7C294.14,486.89 294,489.57 294.3,492" stroke="#fb0a48" stroke-width="2.7"/>
<path d="M294.5,492L294.6,501.5" stroke="#fb0a48" stroke-width="2.7" stroke-dasharray="5,3"/>
<path d="M295.2,490C295.73,485.9 295.15,480.63 296.8,477.7C298.09,475.42 300.62,474.09 302.7,473C304.58,472.01 306.62,471.2 308.6,471.2C310.59,471.2 312.84,471.95 314.6,473C316.42,474.09 318.07,476.17 319.3,477.7C320.28,478.92 320.53,480.42 321.6,481.3C322.73,482.22 324.51,482.89 326,483C327.48,483.11 328.99,482.59 330.5,482C332.25,481.31 334.11,478.6 335.8,478.9C337.88,479.27 339.39,485.35 341.7,486C343.78,486.59 346.6,483.33 348.8,483.6C350.93,483.86 352.56,486.5 354.7,487.4C356.88,488.32 359.61,488.13 361.8,489C363.93,489.85 365.64,491.29 367.7,492.5C369.95,493.82 372.27,495.09 374.8,496.6C377.75,498.37 381.13,500.53 384.3,502.5" stroke="#fb0a48" stroke-width="2.7" stroke-dasharray="5,3"/>
<path d="M134.7,508.5C144.83,508.23 155.42,508.36 165.1,507.7C173.99,507.1 182.96,505.94 190.6,504.9C196.88,504.04 201.7,503.1 207.7,502.1C214.39,500.98 222.19,499.28 228.9,498.5C234.89,497.8 241.78,497.46 246,497.4C248.48,497.36 250.21,497.01 251.9,497.6C253.43,498.14 254.83,499.17 255.8,500.5C256.9,502.02 257.13,504.5 257.8,506.5" stroke="#ff8b00" stroke-width="2.7"/>
<path d="M258.2,508L258.3,525.1" stroke="#ff8b00" stroke-width="2.7" stroke-dasharray="5,3"/>
<path d="M259.2,510C259.3,506.67 258.91,503.19 259.5,500C260.07,496.9 260.66,493.68 262.6,491.1C264.88,488.07 269.54,485.58 273.2,483.6C276.63,481.74 280.26,480.81 283.8,479.4C287.36,477.98 291.24,476.32 294.5,475.1C297.21,474.09 299.55,473.1 302,472.5C304.24,471.95 306.47,471.37 308.6,471.5C310.66,471.63 312.82,472.17 314.6,473.2C316.47,474.29 317.87,476.4 319.5,478" stroke="#ff8b00" stroke-width="2.7" stroke-dasharray="5,3"/>
<path d="M320.3,497C320.47,492.67 320.16,487.17 320.8,484C321.19,482.07 321.66,479.94 322.5,479.5C323.05,479.21 323.99,479.47 324.5,480C325.39,480.92 325.51,483.68 325.8,486C326.19,489.1 326.07,493.33 326.2,497" stroke="#ff8b00" stroke-width="2.7"/>
<path d="M327,499C327.13,494 326.74,487.22 327.4,484C327.73,482.39 328.33,480.52 328.8,480.5C329.2,480.49 329.7,481.75 330,483C330.75,486.1 330.4,495.78 330.5,500C330.56,502.51 330.57,504 330.6,506" stroke="#ff8b00" stroke-width="2.7"/>
<path d="M331,507L331.2,512" stroke="#ff8b00" stroke-width="2.7" stroke-dasharray="5,3"/>
<path d="M333.5,480C334.27,479.73 334.95,478.97 335.8,479.2C337.45,479.65 339.39,485.56 341.7,486.2C343.79,486.78 346.6,483.53 348.8,483.8C350.93,484.06 352.56,486.7 354.7,487.6C356.88,488.52 359.61,488.33 361.8,489.2C363.93,490.05 365.64,491.49 367.7,492.7C369.95,494.02 372.27,495.29 374.8,496.8C377.75,498.57 381.13,500.73 384.3,502.7" stroke="#ff8b00" stroke-width="2.7" stroke-dasharray="5,3"/>
<path d="M134.7,571.5C137.73,572.2 140.49,573.22 143.8,573.6C147.68,574.04 153.32,572.77 156.6,573.6C158.87,574.17 160.36,575.4 162,576.5C163.55,577.54 164.8,578.83 166.2,580" stroke="#ffec00" stroke-width="2.7"/>
<path d="M169.4,575.1C175.07,572.63 180.42,570.35 186.4,567.7C193.11,564.73 200.65,561.47 207.7,558.1C214.81,554.7 222.8,550.63 228.9,547.4C233.61,544.9 236.6,543.08 241.3,540.5C247.44,537.14 255.32,532.47 262.6,529C269.89,525.53 279.9,521.53 285,519.7C287.57,518.78 288.99,517.66 290.9,517.9C292.93,518.16 295.39,519.98 296.8,521.5C298.03,522.83 298.62,523.91 299.2,526.2C300.49,531.29 299.6,543.53 299.8,552.2" stroke="#ffec00" stroke-width="2.7" stroke-dasharray="5,3"/>
<path d="M300.2,540C300.63,533.03 299.88,523.44 301.5,519.1C302.36,516.79 303.75,515.37 305.1,514.4C306.17,513.63 307.64,512.88 308.6,513.2C309.63,513.54 310.46,515.01 311,516.7C312.02,519.91 311.13,526.9 311.2,532" stroke="#ffec00" stroke-width="2.7"/>
<path d="M312.2,515C312.6,513.6 312.7,512.32 313.4,510.8C314.38,508.67 316.2,505.5 318.1,503.7C319.8,502.08 322.09,500.47 324,500.2C325.61,499.97 327.62,500.37 328.7,501.4C329.92,502.56 330.05,504.66 330.5,507.3C331.37,512.37 331.15,530 331.5,530C331.82,530 331.76,516.82 332.5,512C333.01,508.68 333.69,506.47 334.6,503.7C335.56,500.78 336.4,496.28 338.2,494.9C339.47,493.93 341.57,493.74 342.9,494.3C344.39,494.92 345.57,496.63 346.5,499C348.41,503.87 348.13,523.81 348.8,523.8C349.51,523.79 348.57,500 350.6,495.5C351.39,493.76 352.65,492.36 353.6,492.5C354.85,492.68 356.25,495.88 357.1,499C358.87,505.5 357.71,530.89 358.3,530.9C358.9,530.91 358.9,503.12 360.7,497.8C361.34,495.91 362.26,494.26 363,494.3C363.83,494.35 364.82,496.68 365.4,499C366.74,504.32 365.62,526.79 366,526.8C366.38,526.81 365.79,501.94 367.7,497.8C368.35,496.4 369.41,495.33 370.1,495.5C371.14,495.76 371.64,502.55 372.5,502.6C373.22,502.64 373.9,497.85 374.8,497.8C375.83,497.75 376.76,502.33 378.4,503.7C379.97,505.01 382.33,505.23 384.3,506" stroke="#ffec00" stroke-width="2.7" stroke-dasharray="5,3"/>
</g>
<rect x="134.7" y="448.5" width="249.6" height="135.1" fill="none" stroke="#0a0a0a" stroke-width="1.6"/>
<path d="M128.7,583.76H134.7M128.7,573.98H134.7M124.5,564.2H134.7M128.7,554.42H134.7M128.7,544.64H134.7M128.7,534.86H134.7M128.7,525.08H134.7M124.5,515.3H134.7M128.7,505.52H134.7M128.7,495.74H134.7M128.7,485.96H134.7M128.7,476.18H134.7M124.5,466.4H134.7M128.7,456.62H134.7M134.7,583.6V589.6M158.13,583.6V589.6M171.83,583.6V589.6M181.56,583.6V589.6M189.1,583.6V593.8M213,583.6V589.6M236.9,583.6V589.6M250.89,583.6V589.6M260.81,583.6V589.6M268.5,583.6V593.8M292.34,583.6V589.6M316.18,583.6V589.6M330.13,583.6V589.6M340.02,583.6V589.6M347.7,583.6V593.8M371.54,583.6V589.6" stroke="#0a0a0a" stroke-width="1.3" fill="none"/>
<g fill="#3c3c3c" font-family="NanumGothic, 'Liberation Sans', sans-serif">
<text x="91.9" y="569.6" font-size="15.0">10<tspan dy="-5.1" font-size="10.2">-15</tspan></text>
<text x="91.9" y="520.7" font-size="15.0">10<tspan dy="-5.1" font-size="10.2">-10</tspan></text>
<text x="91.9" y="471.8" font-size="15.0">10<tspan dy="-5.1" font-size="10.2">-5</tspan></text>
<text x="188.7" y="611.1" text-anchor="middle" font-size="15">10<tspan dy="-5.4" font-size="10.2">1</tspan></text>
<text x="268.1" y="611.1" text-anchor="middle" font-size="15">10<tspan dy="-5.4" font-size="10.2">2</tspan></text>
<text x="347.3" y="611.1" text-anchor="middle" font-size="15">10<tspan dy="-5.4" font-size="10.2">3</tspan></text>
</g>
<clipPath id="cH"><rect x="442.2" y="448.5" width="239.1" height="135.1"/></clipPath>
<g clip-path="url(#cH)" fill="none" stroke-linejoin="round" stroke-linecap="butt">
<path d="M442.2,454.9C447.73,454.9 452.92,454.82 458.8,454.9C465.46,454.99 473.41,455.11 480.1,455.5C486.09,455.85 491.64,456.25 497.1,457C502.25,457.71 507.09,458.41 512,459.8C517.03,461.22 521.83,463.27 526.9,465.5C532.44,467.94 538.43,471.49 543.9,474C548.86,476.27 553.79,478.85 558.3,480C562.03,480.95 565.36,481.1 568.9,481.1C572.46,481.1 576.03,480.37 579.6,480" stroke="#4b0a62" stroke-width="2.7"/>
<path d="M442.2,471.9C447.73,470.13 452.88,468.14 458.8,466.6C465.41,464.88 473.38,463.39 480.1,462.3C486.07,461.33 491.62,460.23 497.1,460.2C502.23,460.18 507.1,460.76 512,461.9C517.03,463.07 521.85,464.98 526.9,467.2C532.47,469.65 538.36,473.89 543.9,476.2C548.8,478.24 553.82,479.82 558.3,480.7C562.06,481.44 565.36,481.68 568.9,481.6C572.46,481.52 576.03,480.67 579.6,480.2" stroke="#14809f" stroke-width="2.7"/>
<path d="M442.2,510.6C444.9,508 447.13,505.2 450.3,502.8C453.94,500.04 458.43,497.53 463.1,495.3C468.27,492.83 474.38,490.64 480.1,488.9C485.71,487.19 491.81,485.79 497.1,484.9C501.64,484.14 506.37,483.48 509.9,483.6C512.41,483.69 514.22,484.02 516.3,484.7C518.49,485.42 520.35,487.12 522.7,487.9C525.28,488.75 528.26,489.51 531.2,489.4C534.43,489.27 537.88,487.51 541.3,486.8C544.77,486.08 548.36,485.63 551.9,485.1C555.46,484.57 558.9,484.16 562.6,483.6C566.58,483 570.68,482.41 575,481.6C579.77,480.71 584.97,479.2 590,478.4C595,477.6 600.27,476.85 605.1,476.8C609.54,476.76 613.52,477.03 617.9,477.9C622.73,478.86 627.9,480.68 632.8,482.6C637.83,484.57 642.6,487.05 647.7,489.6C653.21,492.35 659.12,495.38 664.7,498.6C670.33,501.85 675.77,505.53 681.3,509" stroke="#fb0a48" stroke-width="2.7"/>
<path d="M442.2,511.3C447.73,510.8 452.92,510.07 458.8,509.8C465.45,509.5 473.01,510.15 480.1,509.8C487.21,509.45 495.27,508.93 501.4,507.7C506.23,506.73 510.69,504.99 514.1,503.8C516.46,502.98 517.74,502.46 520,501.5C523.16,500.17 527.53,497.89 531.2,496.4C534.62,495.01 538.25,493.89 541.3,492.8C543.82,491.89 545.48,491.26 548.2,490.3C552.12,488.92 557.3,486.97 562.6,485.4C568.95,483.51 576.68,481.28 583.8,480C590.85,478.73 598.9,477.74 605.1,477.7C609.91,477.67 613.52,478.01 617.9,478.9C622.73,479.88 627.9,481.68 632.8,483.6C637.83,485.57 642.6,488.05 647.7,490.6C653.21,493.35 659.12,496.38 664.7,499.6C670.33,502.85 675.77,506.53 681.3,510" stroke="#ff8b00" stroke-width="2.7"/>
<path d="M442.2,573C449.17,572.63 456.11,571.74 463.1,571.9C470.17,572.06 478.24,573.21 484.4,574C489.16,574.61 493.2,575.43 497,576C500.14,576.47 502.47,577.37 505.6,577.2C509.46,576.99 514.03,575.46 518.4,574C523.24,572.38 529.08,569.36 533.3,567.7C536.36,566.5 538.29,565.85 541.3,564.8C545.17,563.45 550.74,561.7 554.6,560.3C557.62,559.21 559.61,558.13 562.6,557.2C566.25,556.07 571.22,555.17 575,554.3C578.18,553.57 580.2,552.85 583.8,552.3C589.33,551.46 598.91,550.32 605.1,550.6C609.92,550.82 614.23,551.23 617.9,552.8C621.22,554.22 624.26,556.53 626.4,559.1C628.43,561.54 629.64,564.32 630.6,567.7C631.81,571.98 631.6,577.9 632.1,583" stroke="#ffec00" stroke-width="2.7"/>
<path d="M632.6,583C632.73,580 632.81,577.12 633,574C633.2,570.61 632.68,566.48 633.8,563.4C634.84,560.55 636.64,558.24 639.1,556C642.24,553.14 647.33,550.35 651.9,548.5C656.55,546.62 662.11,545.16 666.8,544.9C670.91,544.67 675.94,545.96 678.5,546.4C679.76,546.62 680.37,546.8 681.3,547" stroke="#ffec00" stroke-width="2.7" stroke-dasharray="5,3"/>
</g>
<rect x="442.2" y="448.5" width="239.1" height="135.1" fill="none" stroke="#0a0a0a" stroke-width="1.6"/>
<path d="M436.2,583.52H442.2M432,572.7H442.2M436.2,561.88H442.2M436.2,551.06H442.2M436.2,540.24H442.2M436.2,529.42H442.2M432,518.6H442.2M436.2,507.78H442.2M436.2,496.96H442.2M436.2,486.14H442.2M436.2,475.32H442.2M432,464.5H442.2M436.2,453.68H442.2M442.2,583.6V589.6M465.2,583.6V589.6M478.65,583.6V589.6M488.2,583.6V589.6M495.6,583.6V593.8M518.18,583.6V589.6M540.75,583.6V589.6M553.96,583.6V589.6M563.33,583.6V589.6M570.6,583.6V593.8M593.75,583.6V589.6M616.9,583.6V589.6M630.44,583.6V589.6M640.05,583.6V589.6M647.5,583.6V593.8M670.65,583.6V589.6" stroke="#0a0a0a" stroke-width="1.3" fill="none"/>
<g fill="#3c3c3c" font-family="NanumGothic, 'Liberation Sans', sans-serif">
<text x="399.4" y="578.1" font-size="15.0">10<tspan dy="-5.1" font-size="10.2">-15</tspan></text>
<text x="399.4" y="524" font-size="15.0">10<tspan dy="-5.1" font-size="10.2">-10</tspan></text>
<text x="399.4" y="469.9" font-size="15.0">10<tspan dy="-5.1" font-size="10.2">-5</tspan></text>
<text x="495.2" y="611.1" text-anchor="middle" font-size="15">10<tspan dy="-5.4" font-size="10.2">1</tspan></text>
<text x="570.2" y="611.1" text-anchor="middle" font-size="15">10<tspan dy="-5.4" font-size="10.2">2</tspan></text>
<text x="647.1" y="611.1" text-anchor="middle" font-size="15">10<tspan dy="-5.4" font-size="10.2">3</tspan></text>
</g>
<clipPath id="cI"><rect x="740.6" y="448.5" width="238.8" height="135.1"/></clipPath>
<g clip-path="url(#cI)" fill="none" stroke-linejoin="round" stroke-linecap="butt">
<path d="M740.6,454.9C745,456.17 749.43,457.46 753.8,458.7C758.1,459.92 762.61,460.74 766.6,462.3C770.38,463.78 774.42,465.51 777.2,467.7C779.52,469.53 781.18,471.68 782.6,474C784,476.29 784.67,479 785.7,481.5" stroke="#4b0a62" stroke-width="2.7"/>
<path d="M788.9,474C791.4,472.47 793.56,470.39 796.4,469.4C799.52,468.31 803.46,468.04 807,468.1C810.56,468.16 814.41,468.75 817.7,469.8C820.78,470.78 823.73,472.1 826.2,474C828.7,475.92 829.86,480.2 832.6,481.3C835.47,482.46 839.25,480.61 843.2,480.4C848.2,480.13 855.31,479.83 860.2,480C863.92,480.13 866.99,480.27 870,480.9C872.7,481.47 874.82,482.34 877.5,483.4C880.76,484.69 884.69,487.23 888.1,488.3C891.03,489.22 893.46,489.53 896.6,489.8C900.42,490.13 905.45,488.81 909.4,489.8C913.23,490.76 916.47,493.56 920,495.5C923.57,497.46 927.16,499.44 930.7,501.5C934.26,503.57 937.72,505.94 941.3,507.9C944.82,509.83 948.56,511 952,513.2C955.67,515.54 958.42,519.47 962.6,521.7C967.36,524.24 973.8,525.23 979.4,527" stroke="#4b0a62" stroke-width="2.7" stroke-dasharray="5,3"/>
<path d="M740.6,463.4C745,463.03 748.87,462.51 753.8,462.3C760.05,462.04 769.31,461.17 775.1,462.3C779.34,463.13 782.49,464.64 785.7,466.6C788.89,468.55 792.54,471.42 794.3,474C795.62,475.93 795.7,478 796.4,480" stroke="#14809f" stroke-width="2.7"/>
<path d="M798.5,474C800,472.5 801.41,470.35 803,469.5C804.27,468.82 805.49,468.85 807,468.7C808.92,468.51 811.68,468.45 813.6,468.7C815.14,468.9 816.34,469.28 817.7,469.8C819.17,470.36 820.59,470.92 822.1,472C824.15,473.46 826.23,476.68 828.5,478.3C830.53,479.75 832.42,481.05 834.9,481.5C837.94,482.06 842.04,480.65 845.6,480.4C849.14,480.15 852.67,479.88 856.2,480C859.74,480.12 863.28,480.51 866.8,481.1C870.38,481.7 874,482.4 877.5,483.6C881.11,484.84 884.69,487.43 888.1,488.5C891.03,489.42 893.46,489.73 896.6,490C900.42,490.33 905.45,489.01 909.4,490C913.23,490.96 916.47,493.76 920,495.7C923.57,497.66 927.16,499.64 930.7,501.7C934.26,503.77 937.72,506.14 941.3,508.1C944.82,510.03 948.56,511.2 952,513.4C955.67,515.74 958.42,519.67 962.6,521.9C967.36,524.44 973.8,525.43 979.4,527.2" stroke="#14809f" stroke-width="2.7" stroke-dasharray="5,3"/>
<path d="M740.6,491.7C745,491.7 749.92,491.12 753.8,491.7C756.98,492.18 759.62,492.78 762.3,494.3C765.36,496.04 768.03,499.5 770.9,502.1" stroke="#fb0a48" stroke-width="2.7"/>
<path d="M774,497.4C777.9,494.57 781.35,490.94 785.7,488.9C790.19,486.79 795.57,485.83 800.6,485.1C805.6,484.37 810.98,484.48 815.8,484.5C820.17,484.52 823.97,485.4 828.3,485.1C833.07,484.77 838.39,483.1 843.2,482.3C847.67,481.55 852.08,480.49 856.2,480.4C859.91,480.32 863.27,480.94 866.8,481.5C870.37,482.07 874.01,482.63 877.5,483.8C881.11,485.01 884.69,487.63 888.1,488.7C891.03,489.62 893.46,489.93 896.6,490.2C900.42,490.53 905.45,489.21 909.4,490.2C913.23,491.16 916.96,494.3 920,495.9C922.28,497.1 924,497.97 926,499" stroke="#fb0a48" stroke-width="2.7" stroke-dasharray="5,3"/>
<path d="M926.4,529.4C926.6,522.93 926.42,514.88 927,510C927.36,507 927.09,503.78 928.5,502.8C929.83,501.88 932.82,502.66 934.9,503.8C937.83,505.4 940.47,511.77 943.4,513.4C945.48,514.56 948.06,513.37 949.8,514.5C951.7,515.73 953.13,517.97 954.1,520.9C955.71,525.77 954.77,535.03 955.1,542.1" stroke="#fb0a48" stroke-width="2.7"/>
<path d="M955.1,542.1L955.1,561.3" stroke="#fb0a48" stroke-width="2.7" stroke-dasharray="5,3"/>
<path d="M740.6,510.9C745,512.1 751.1,513.4 753.8,514.5C755.08,515.02 755.6,515.5 756.5,516" stroke="#ff8b00" stroke-width="2.7"/>
<path d="M763.4,523C764.1,521.33 764.34,519.38 765.5,518C766.76,516.5 768.54,515.48 770.9,514.5C774.52,513 780.78,512.54 785.7,511.3C790.68,510.04 795.63,508.58 800.6,507C805.66,505.39 810.9,502.87 815.8,501.7C820.17,500.66 825.04,499.51 828.5,500C831.05,500.36 833.1,501.09 834.9,502.8C837.24,505.02 838.43,509.87 840.2,513.4" stroke="#ff8b00" stroke-width="2.7" stroke-dasharray="5,3"/>
<path d="M840.6,512C841.53,509.27 841.83,506.48 843.4,503.8C845.3,500.55 848.36,497.01 851.9,494.3C855.95,491.2 861.91,488.53 866.8,486.8C871.13,485.26 875.75,484.42 879.6,484C882.7,483.66 885.33,483.4 888.1,484C891,484.63 894.45,485.95 896.6,487.9C898.66,489.77 899.95,492.19 900.9,495.3C902.24,499.69 901.63,506.63 902,512.3" stroke="#ff8b00" stroke-width="2.7"/>
<path d="M902.4,505C902.97,501.77 902.68,497.69 904.1,495.3C905.28,493.32 907.45,491.45 909.4,491.1C911.35,490.75 914.06,491.87 915.8,493.2C917.65,494.62 919.06,496.76 920,499.6C921.45,503.97 920.73,511.67 921.1,517.7" stroke="#ff8b00" stroke-width="2.7" stroke-dasharray="5,3"/>
<path d="M921.6,510C922.5,506.87 922.54,502.72 924.3,500.6C925.8,498.79 928.48,497.2 930.7,497.4C933.41,497.65 936.32,501.83 939.2,503.8C941.99,505.72 944.99,506.93 947.7,509.1C950.68,511.48 953.32,514.99 956.2,517.7C958.99,520.31 962.55,522.2 964.7,525.1C966.77,527.9 967.47,532.76 969,534.7C969.87,535.81 970.8,536.1 971.7,536.8" stroke="#ff8b00" stroke-width="2.7"/>
<path d="M971.7,536.8L971.7,568.7" stroke="#ff8b00" stroke-width="2.7" stroke-dasharray="5,3"/>
<path d="M972.2,537C972.53,535.87 972.36,534.47 973.2,533.6C974.34,532.42 977.33,532.2 979.4,531.5" stroke="#ff8b00" stroke-width="2.7"/>
<path d="M740.6,564.5C745,564.5 750.43,564.02 753.8,564.5C755.96,564.8 757.27,565.33 759,566C760.84,566.71 762.67,567.8 764.5,568.7" stroke="#ffec00" stroke-width="2.7"/>
<path d="M769.8,581.5C771.57,577.6 772.12,572.29 775.1,569.8C778.12,567.28 783.73,568.15 787.9,566.6C792.23,564.99 796.15,562.83 800.6,560.2C805.98,557.02 813.34,551.54 817.7,548.5C820.42,546.6 821.64,545.58 824.3,543.8C828.18,541.21 834.92,536.88 838.9,534.7C841.52,533.27 842.95,532.81 845.6,531.5C849.54,529.55 855.16,525.67 860.2,524C865.07,522.39 871.03,521 875.3,521.5C878.63,521.89 881.73,523.29 883.9,525.1C885.87,526.74 887.07,528.7 888.1,531.5C889.64,535.68 889.51,548.5 890.2,548.5C890.81,548.5 891.36,535 892,535C892.78,535 893.76,554.91 894.5,554.9C895.3,554.89 894.75,536.71 896.6,531.5C897.66,528.52 899.22,526.29 900.9,525.1C902.16,524.2 904.04,523.27 905.1,524C907.34,525.53 906.57,536.8 907.3,543.2" stroke="#ffec00" stroke-width="2.7" stroke-dasharray="5,3"/>
<path d="M908,530C908.47,526.6 908.07,522.09 909.4,519.8C910.36,518.16 912.03,516.65 913.6,516.6C915.49,516.54 917.79,520.61 920,520.9C922.07,521.17 924.15,519.64 926.4,518.7C929.07,517.59 931.99,515 934.9,514.5C937.66,514.02 940.55,515.33 943.4,515.5C946.25,515.67 949.1,514.69 952,515.5C955.48,516.47 959.07,519.77 962.6,521.9C966.13,524.03 970.17,526.29 973.2,528.3C975.58,529.88 977.33,531.3 979.4,532.8" stroke="#ffec00" stroke-width="2.7"/>
</g>
<rect x="740.6" y="448.5" width="238.8" height="135.1" fill="none" stroke="#0a0a0a" stroke-width="1.6"/>
<path d="M734.6,584.02H740.6M730.4,572.9H740.6M734.6,561.78H740.6M734.6,550.66H740.6M734.6,539.54H740.6M734.6,528.42H740.6M730.4,517.3H740.6M734.6,506.18H740.6M734.6,495.06H740.6M734.6,483.94H740.6M734.6,472.82H740.6M730.4,461.7H740.6M734.6,450.58H740.6M740.6,583.6V589.6M763.51,583.6V589.6M776.91,583.6V589.6M786.42,583.6V589.6M793.8,583.6V593.8M816.44,583.6V589.6M839.07,583.6V589.6M852.32,583.6V589.6M861.71,583.6V589.6M869,583.6V593.8M892.06,583.6V589.6M915.12,583.6V589.6M928.61,583.6V589.6M938.18,583.6V589.6M945.6,583.6V593.8M968.66,583.6V589.6" stroke="#0a0a0a" stroke-width="1.3" fill="none"/>
<g fill="#3c3c3c" font-family="NanumGothic, 'Liberation Sans', sans-serif">
<text x="697.8" y="578.3" font-size="15.0">10<tspan dy="-5.1" font-size="10.2">-15</tspan></text>
<text x="697.8" y="522.7" font-size="15.0">10<tspan dy="-5.1" font-size="10.2">-10</tspan></text>
<text x="697.8" y="467.1" font-size="15.0">10<tspan dy="-5.1" font-size="10.2">-5</tspan></text>
<text x="793.4" y="611.1" text-anchor="middle" font-size="15">10<tspan dy="-5.4" font-size="10.2">1</tspan></text>
<text x="868.6" y="611.1" text-anchor="middle" font-size="15">10<tspan dy="-5.4" font-size="10.2">2</tspan></text>
<text x="945.2" y="611.1" text-anchor="middle" font-size="15">10<tspan dy="-5.4" font-size="10.2">3</tspan></text>
</g>
<clipPath id="cJ"><rect x="442.1" y="660.5" width="239.4" height="130.9"/></clipPath>
<g clip-path="url(#cJ)" fill="none" stroke-linejoin="round" stroke-linecap="butt">
<path d="M439,680C440.17,679.53 440.98,679.17 442.5,678.6C445.28,677.57 450.43,675.77 454.4,674.5C458.33,673.24 462.04,671.84 466.2,671C470.7,670.09 475.74,669.58 480.5,669.4C485.24,669.22 489.98,669.31 494.7,669.9C499.49,670.5 504.36,671.29 509,673C513.87,674.79 518.8,677.7 523.2,680.6C527.48,683.42 531.32,687.26 535.1,690.1C538.41,692.58 541.28,695.3 544.6,696.8C547.64,698.18 551.15,698.85 554.1,699.1C556.62,699.31 558.9,698.75 561.2,698.6C563.36,698.46 564.85,699.01 567.5,698.2C573.02,696.5 584.54,687.49 591.2,684.2C595.75,681.96 599.08,680.59 603.1,679.4C607.01,678.24 611.24,677.46 615,677.1C618.33,676.78 621.09,676.42 624.5,677.1C628.84,677.97 634.03,680.69 638.7,683C643.54,685.4 648.38,688.06 653,691.3C657.89,694.73 663.01,699.37 667.2,703.2C670.76,706.46 673.74,709.74 676.7,712.7C679.29,715.29 681.57,717.57 684,720L684,794.4L439,794.4Z" fill="#824f91" stroke="none"/>
<path d="M439,680C440.17,679.53 440.98,679.17 442.5,678.6C445.28,677.57 450.43,675.77 454.4,674.5C458.33,673.24 462.04,671.84 466.2,671C470.7,670.09 475.74,669.58 480.5,669.4C485.24,669.22 489.98,669.31 494.7,669.9C499.49,670.5 504.36,671.29 509,673C513.87,674.79 518.8,677.7 523.2,680.6C527.48,683.42 531.32,687.26 535.1,690.1C538.41,692.58 541.28,695.3 544.6,696.8C547.64,698.18 551.15,698.85 554.1,699.1C556.62,699.31 558.9,698.75 561.2,698.6C563.36,698.46 564.85,699.01 567.5,698.2C573.02,696.5 584.54,687.49 591.2,684.2C595.75,681.96 599.08,680.59 603.1,679.4C607.01,678.24 611.24,677.46 615,677.1C618.33,676.78 621.09,676.42 624.5,677.1C628.84,677.97 634.03,680.69 638.7,683C643.54,685.4 648.38,688.06 653,691.3C657.89,694.73 663.01,699.37 667.2,703.2C670.76,706.46 673.74,709.74 676.7,712.7C679.29,715.29 681.57,717.57 684,720" stroke="#4b0a62" stroke-width="2.7"/>
<path d="M439,687.5C440.17,686.93 440.98,686.5 442.5,685.8C445.28,684.52 450.41,682.15 454.4,680.6C458.31,679.09 462.04,677.68 466.2,676.6C470.7,675.44 475.72,674.43 480.5,674C485.22,673.57 489.99,673.49 494.7,674C499.49,674.51 504.34,675.46 509,677.1C513.85,678.81 518.81,681.4 523.2,684.2C527.5,686.95 531.26,691.1 535.1,693.7C538.36,695.9 541.33,697.95 544.6,699.1C547.67,700.18 551.16,700.58 554.1,700.6C556.64,700.62 558.91,700.01 561.2,699.6C563.37,699.21 564.84,699.25 567.5,698.2C573,696.03 584.54,687.49 591.2,684.2C595.75,681.96 599.08,680.59 603.1,679.4C607.01,678.24 611.24,677.46 615,677.1C618.33,676.78 621.09,676.42 624.5,677.1C628.84,677.97 634.03,680.69 638.7,683C643.54,685.4 648.38,688.06 653,691.3C657.89,694.73 663.01,699.37 667.2,703.2C670.76,706.46 673.74,709.74 676.7,712.7C679.29,715.29 681.57,717.57 684,720L684,794.4L439,794.4Z" fill="#5cabc2" stroke="none"/>
<path d="M439,687.5C440.17,686.93 440.98,686.5 442.5,685.8C445.28,684.52 450.41,682.15 454.4,680.6C458.31,679.09 462.04,677.68 466.2,676.6C470.7,675.44 475.72,674.43 480.5,674C485.22,673.57 489.99,673.49 494.7,674C499.49,674.51 504.34,675.46 509,677.1C513.85,678.81 518.81,681.4 523.2,684.2C527.5,686.95 531.26,691.1 535.1,693.7C538.36,695.9 541.33,697.95 544.6,699.1C547.67,700.18 551.16,700.58 554.1,700.6C556.64,700.62 558.91,700.01 561.2,699.6C563.37,699.21 564.84,699.25 567.5,698.2C573,696.03 584.54,687.49 591.2,684.2C595.75,681.96 599.08,680.59 603.1,679.4C607.01,678.24 611.24,677.46 615,677.1C618.33,676.78 621.09,676.42 624.5,677.1C628.84,677.97 634.03,680.69 638.7,683C643.54,685.4 648.38,688.06 653,691.3C657.89,694.73 663.01,699.37 667.2,703.2C670.76,706.46 673.74,709.74 676.7,712.7C679.29,715.29 681.57,717.57 684,720" stroke="#14809f" stroke-width="2.7"/>
<path d="M439,733C440.17,732.57 440.99,732.28 442.5,731.7C445.29,730.62 450.41,728.29 454.4,726.9C458.31,725.54 462.4,725.23 466.2,723.4C470.32,721.41 474.06,717.6 478.1,715.1C482,712.68 486.14,709.89 490,708.6C493.25,707.51 496.66,706.63 499.5,707.2C502.14,707.73 504.37,709.61 506.6,711.5C509.15,713.67 511.58,717.26 513.7,719.8C515.47,721.92 516.7,724.55 518.5,725.7C519.94,726.62 521.76,727.37 523.2,726.9C525,726.31 525.98,722.93 528,721C530.52,718.58 534.05,716.03 537.5,713.9C541.15,711.64 545.45,709.92 549.4,707.9C553.35,705.88 557.88,703.5 561.2,701.8C563.62,700.56 564.76,700.11 567.5,698.6C572.91,695.61 584.54,687.71 591.2,684.4C595.74,682.14 599.08,680.79 603.1,679.6C607.01,678.44 611.24,677.66 615,677.3C618.33,676.98 621.09,676.62 624.5,677.3C628.84,678.17 634.03,680.89 638.7,683.2C643.54,685.6 648.38,688.26 653,691.5C657.89,694.93 663.01,699.57 667.2,703.4C670.76,706.66 673.74,709.94 676.7,712.9C679.29,715.49 681.57,717.77 684,720.2L684,794.4L439,794.4Z" fill="#ff94ad" stroke="none"/>
<path d="M439,733C440.17,732.57 440.99,732.28 442.5,731.7C445.29,730.62 450.41,728.29 454.4,726.9C458.31,725.54 462.4,725.23 466.2,723.4C470.32,721.41 474.06,717.6 478.1,715.1C482,712.68 486.14,709.89 490,708.6C493.25,707.51 496.66,706.63 499.5,707.2C502.14,707.73 504.37,709.61 506.6,711.5C509.15,713.67 511.58,717.26 513.7,719.8C515.47,721.92 516.7,724.55 518.5,725.7C519.94,726.62 521.76,727.37 523.2,726.9C525,726.31 525.98,722.93 528,721C530.52,718.58 534.05,716.03 537.5,713.9C541.15,711.64 545.45,709.92 549.4,707.9C553.35,705.88 557.88,703.5 561.2,701.8C563.62,700.56 564.76,700.11 567.5,698.6C572.91,695.61 584.54,687.71 591.2,684.4C595.74,682.14 599.08,680.79 603.1,679.6C607.01,678.44 611.24,677.66 615,677.3C618.33,676.98 621.09,676.62 624.5,677.3C628.84,678.17 634.03,680.89 638.7,683.2C643.54,685.6 648.38,688.26 653,691.5C657.89,694.93 663.01,699.57 667.2,703.4C670.76,706.66 673.74,709.94 676.7,712.9C679.29,715.49 681.57,717.77 684,720.2" stroke="#fb0a48" stroke-width="2.7"/>
<path d="M439,759C440.17,758.6 441,758.36 442.5,757.8C445.3,756.76 450.04,754.33 454.4,753C459.41,751.47 465.25,750.1 471,749.5C477.09,748.87 484.82,750.45 490,749.5C493.79,748.81 496.12,747.64 499.5,745.9C503.88,743.64 508.38,740.04 513.7,736.4C520.63,731.66 529.57,725.31 537.5,719.8C545.4,714.31 555.84,707.21 561.2,703.4C563.99,701.42 564.68,700.68 567.5,698.8C572.83,695.25 584.53,687.74 591.2,684.4C595.74,682.13 599.08,680.79 603.1,679.6C607.01,678.44 611.24,677.66 615,677.3C618.33,676.98 621.09,676.62 624.5,677.3C628.84,678.17 634.03,680.89 638.7,683.2C643.54,685.6 648.38,688.26 653,691.5C657.89,694.93 663.01,699.57 667.2,703.4C670.76,706.66 673.74,709.94 676.7,712.9C679.29,715.49 681.57,717.77 684,720.2L684,794.4L439,794.4Z" fill="#fecb8b" stroke="none"/>
<path d="M439,759C440.17,758.6 441,758.36 442.5,757.8C445.3,756.76 450.04,754.33 454.4,753C459.41,751.47 465.25,750.1 471,749.5C477.09,748.87 484.82,750.45 490,749.5C493.79,748.81 496.12,747.64 499.5,745.9C503.88,743.64 508.38,740.04 513.7,736.4C520.63,731.66 529.57,725.31 537.5,719.8C545.4,714.31 555.84,707.21 561.2,703.4C563.99,701.42 564.68,700.68 567.5,698.8C572.83,695.25 584.53,687.74 591.2,684.4C595.74,682.13 599.08,680.79 603.1,679.6C607.01,678.44 611.24,677.66 615,677.3C618.33,676.98 621.09,676.62 624.5,677.3C628.84,678.17 634.03,680.89 638.7,683.2C643.54,685.6 648.38,688.26 653,691.5C657.89,694.93 663.01,699.57 667.2,703.4C670.76,706.66 673.74,709.94 676.7,712.9C679.29,715.49 681.57,717.77 684,720.2" stroke="#ff8b00" stroke-width="2.7"/>
<path d="M631,793C632,792.1 632.79,791.6 634,790.3C636.37,787.75 640.21,781.74 643.5,778C646.56,774.52 649.58,770.71 653,768.5C655.97,766.58 659.29,765.2 662.5,764.9C665.63,764.61 668.68,765.77 672,766.6C675.8,767.55 680,769.2 684,770.5L684,794.4L631,794.4Z" fill="#fef69b" stroke="none"/>
<path d="M631,793C632,792.1 632.79,791.6 634,790.3C636.37,787.75 640.21,781.74 643.5,778C646.56,774.52 649.58,770.71 653,768.5C655.97,766.58 659.29,765.2 662.5,764.9C665.63,764.61 668.68,765.77 672,766.6C675.8,767.55 680,769.2 684,770.5" stroke="#ffec00" stroke-width="2.7"/>
</g>
<rect x="442.1" y="660.5" width="239.4" height="130.9" fill="none" stroke="#0a0a0a" stroke-width="1.6"/>
<path d="M436.1,786.58H442.1M431.9,769.34H442.1M436.1,752.1H442.1M431.9,734.86H442.1M436.1,717.62H442.1M431.9,700.38H442.1M436.1,683.14H442.1M431.9,665.9H442.1M442.1,791.4V797.4M465.06,791.4V797.4M478.48,791.4V797.4M488.01,791.4V797.4M495.4,791.4V801.6M518.01,791.4V797.4M540.61,791.4V797.4M553.84,791.4V797.4M563.22,791.4V797.4M570.5,791.4V801.6M593.62,791.4V797.4M616.74,791.4V797.4M630.26,791.4V797.4M639.86,791.4V797.4M647.3,791.4V801.6M670.42,791.4V797.4" stroke="#0a0a0a" stroke-width="1.3" fill="none"/>
<g fill="#3c3c3c" font-family="NanumGothic, 'Liberation Sans', sans-serif">
<text x="399.3" y="774.74" font-size="15.0">10<tspan dy="-5.1" font-size="10.2">-12</tspan></text>
<text x="399.3" y="740.26" font-size="15.0">10<tspan dy="-5.1" font-size="10.2">-10</tspan></text>
<text x="399.3" y="705.78" font-size="15.0">10<tspan dy="-5.1" font-size="10.2">-8</tspan></text>
<text x="399.3" y="671.3" font-size="15.0">10<tspan dy="-5.1" font-size="10.2">-6</tspan></text>
<text x="495" y="818.9" text-anchor="middle" font-size="15">10<tspan dy="-5.4" font-size="10.2">1</tspan></text>
<text x="570.1" y="818.9" text-anchor="middle" font-size="15">10<tspan dy="-5.4" font-size="10.2">2</tspan></text>
<text x="646.9" y="818.9" text-anchor="middle" font-size="15">10<tspan dy="-5.4" font-size="10.2">3</tspan></text>
</g>
<clipPath id="cK"><rect x="740.3" y="653.8" width="239.1" height="134.9"/></clipPath>
<g clip-path="url(#cK)" fill="none" stroke-linejoin="round" stroke-linecap="butt">
<path d="M737,660.4C738.1,660.4 738.82,660.36 740.3,660.4C743.32,660.48 749.48,660.52 754.1,661.1C758.85,661.7 763.52,662.55 768.4,664C773.8,665.61 779.84,667.81 785,670.6C790.09,673.36 794.53,677.02 799.2,680.6C804.03,684.3 809.15,689.19 813.5,692.5C816.93,695.11 819.94,697.73 823,699.1C825.43,700.19 827.83,700.65 830.1,700.8C832.15,700.94 833.48,700.73 836,700.2C840.76,699.2 849.62,695.5 856.2,693.7C862.34,692.02 868.08,690.44 874.2,689.6C880.41,688.75 887.71,688.39 893.2,688.7C897.44,688.94 900.55,689.09 904.4,690.5C909.15,692.24 914.48,695.71 919.2,699.4C924.39,703.46 929.13,709.09 934,714.2C939,719.44 943.92,724.9 948.8,730.5C953.79,736.23 958.85,741.82 963.6,748.2C968.71,755.05 975.03,765.45 978.3,770.4C979.94,772.88 980.77,774.13 982,776L982,791.7L737,791.7Z" fill="#824f91" stroke="none"/>
<path d="M737,660.4C738.1,660.4 738.82,660.36 740.3,660.4C743.32,660.48 749.48,660.52 754.1,661.1C758.85,661.7 763.52,662.55 768.4,664C773.8,665.61 779.84,667.81 785,670.6C790.09,673.36 794.53,677.02 799.2,680.6C804.03,684.3 809.15,689.19 813.5,692.5C816.93,695.11 819.94,697.73 823,699.1C825.43,700.19 827.83,700.65 830.1,700.8C832.15,700.94 833.48,700.73 836,700.2C840.76,699.2 849.62,695.5 856.2,693.7C862.34,692.02 868.08,690.44 874.2,689.6C880.41,688.75 887.71,688.39 893.2,688.7C897.44,688.94 900.55,689.09 904.4,690.5C909.15,692.24 914.48,695.71 919.2,699.4C924.39,703.46 929.13,709.09 934,714.2C939,719.44 943.92,724.9 948.8,730.5C953.79,736.23 958.85,741.82 963.6,748.2C968.71,755.05 975.03,765.45 978.3,770.4C979.94,772.88 980.77,774.13 982,776" stroke="#4b0a62" stroke-width="2.7"/>
<path d="M737,667C738.1,666.93 738.82,666.89 740.3,666.8C743.32,666.61 749.46,665.78 754.1,665.9C758.83,666.03 763.52,666.46 768.4,667.6C773.8,668.86 779.81,670.97 785,673.5C790.07,675.97 794.53,679.23 799.2,682.5C804.04,685.88 809.17,690.4 813.5,693.5C816.94,695.96 819.78,698.58 823,699.8C825.79,700.86 829.11,700.99 831.5,701C833.24,701.01 833.99,700.86 836,700.4C840.35,699.4 849.62,695.54 856.2,693.7C862.33,691.99 868.08,690.44 874.2,689.6C880.41,688.75 887.71,688.39 893.2,688.7C897.44,688.94 900.55,689.09 904.4,690.5C909.15,692.24 914.48,695.71 919.2,699.4C924.39,703.46 929.13,709.09 934,714.2C939,719.44 943.92,724.9 948.8,730.5C953.79,736.23 958.85,741.82 963.6,748.2C968.71,755.05 975.03,765.45 978.3,770.4C979.94,772.88 980.77,774.13 982,776L982,791.7L737,791.7Z" fill="#5cabc2" stroke="none"/>
<path d="M737,667C738.1,666.93 738.82,666.89 740.3,666.8C743.32,666.61 749.46,665.78 754.1,665.9C758.83,666.03 763.52,666.46 768.4,667.6C773.8,668.86 779.81,670.97 785,673.5C790.07,675.97 794.53,679.23 799.2,682.5C804.04,685.88 809.17,690.4 813.5,693.5C816.94,695.96 819.78,698.58 823,699.8C825.79,700.86 829.11,700.99 831.5,701C833.24,701.01 833.99,700.86 836,700.4C840.35,699.4 849.62,695.54 856.2,693.7C862.33,691.99 868.08,690.44 874.2,689.6C880.41,688.75 887.71,688.39 893.2,688.7C897.44,688.94 900.55,689.09 904.4,690.5C909.15,692.24 914.48,695.71 919.2,699.4C924.39,703.46 929.13,709.09 934,714.2C939,719.44 943.92,724.9 948.8,730.5C953.79,736.23 958.85,741.82 963.6,748.2C968.71,755.05 975.03,765.45 978.3,770.4C979.94,772.88 980.77,774.13 982,776" stroke="#14809f" stroke-width="2.7"/>
<path d="M737,713.4C738.1,713.4 738.78,713.4 740.3,713.4C743.66,713.4 751.09,713.9 756.5,713.4C762.02,712.89 767.78,711.37 773.1,710.3C778.05,709.3 783.1,707.66 787.4,707.2C790.87,706.83 793.76,706.81 796.9,707.2C800.09,707.6 803.23,709.6 806.4,709.6C809.57,709.6 812.33,708.29 815.9,707.2C820.7,705.73 826.45,703.22 832.5,701.2C839.67,698.8 848.81,695.88 856.2,693.9C862.58,692.19 868.08,690.64 874.2,689.8C880.41,688.95 887.71,688.59 893.2,688.9C897.44,689.14 900.55,689.29 904.4,690.7C909.15,692.44 914.48,695.91 919.2,699.6C924.39,703.66 929.13,709.29 934,714.4C939,719.64 943.92,725.1 948.8,730.7C953.79,736.43 958.85,742.02 963.6,748.4C968.71,755.25 975.03,765.65 978.3,770.6C979.94,773.08 980.77,774.33 982,776.2L982,791.7L737,791.7Z" fill="#ff94ad" stroke="none"/>
<path d="M737,713.4C738.1,713.4 738.78,713.4 740.3,713.4C743.66,713.4 751.09,713.9 756.5,713.4C762.02,712.89 767.78,711.37 773.1,710.3C778.05,709.3 783.1,707.66 787.4,707.2C790.87,706.83 793.76,706.81 796.9,707.2C800.09,707.6 803.23,709.6 806.4,709.6C809.57,709.6 812.33,708.29 815.9,707.2C820.7,705.73 826.45,703.22 832.5,701.2C839.67,698.8 848.81,695.88 856.2,693.9C862.58,692.19 868.08,690.64 874.2,689.8C880.41,688.95 887.71,688.59 893.2,688.9C897.44,689.14 900.55,689.29 904.4,690.7C909.15,692.44 914.48,695.91 919.2,699.6C924.39,703.66 929.13,709.29 934,714.4C939,719.64 943.92,725.1 948.8,730.7C953.79,736.43 958.85,742.02 963.6,748.4C968.71,755.25 975.03,765.65 978.3,770.6C979.94,773.08 980.77,774.33 982,776.2" stroke="#fb0a48" stroke-width="2.7"/>
<path d="M737,746.8C738.1,746.27 738.72,745.96 740.3,745.2C744.26,743.29 754.02,738.7 761.2,735.2C768.89,731.45 777.04,727.17 785,723.4C792.87,719.67 800.78,716.23 808.7,712.7C816.62,709.17 824.51,705.35 832.5,702.2C840.35,699.1 848.79,696.04 856.2,693.9C862.56,692.07 868.08,690.64 874.2,689.8C880.41,688.95 887.71,688.59 893.2,688.9C897.44,689.14 900.55,689.29 904.4,690.7C909.15,692.44 914.48,695.91 919.2,699.6C924.39,703.66 929.13,709.29 934,714.4C939,719.64 943.92,725.1 948.8,730.7C953.79,736.43 958.85,742.02 963.6,748.4C968.71,755.25 975.03,765.65 978.3,770.6C979.94,773.08 980.77,774.33 982,776.2L982,791.7L737,791.7Z" fill="#fecb8b" stroke="none"/>
<path d="M737,746.8C738.1,746.27 738.72,745.96 740.3,745.2C744.26,743.29 754.02,738.7 761.2,735.2C768.89,731.45 777.04,727.17 785,723.4C792.87,719.67 800.78,716.23 808.7,712.7C816.62,709.17 824.51,705.35 832.5,702.2C840.35,699.1 848.79,696.04 856.2,693.9C862.56,692.07 868.08,690.64 874.2,689.8C880.41,688.95 887.71,688.59 893.2,688.9C897.44,689.14 900.55,689.29 904.4,690.7C909.15,692.44 914.48,695.91 919.2,699.6C924.39,703.66 929.13,709.29 934,714.4C939,719.64 943.92,725.1 948.8,730.7C953.79,736.43 958.85,742.02 963.6,748.4C968.71,755.25 975.03,765.65 978.3,770.6C979.94,773.08 980.77,774.33 982,776.2" stroke="#ff8b00" stroke-width="2.7"/>
<path d="M803,791C804.13,789.83 804.76,788.79 806.4,787.5C809.42,785.14 815.23,782.21 820.6,779.2C827.49,775.34 837.21,769.75 844.4,766.4C850.06,763.76 854.87,762.24 860,760.2C865,758.21 869.87,756.27 874.8,754.3C879.73,752.33 884.63,750.13 889.6,748.4C894.5,746.7 899.44,745.29 904.4,744C909.31,742.72 914.52,741.3 919.2,740.7C923.33,740.17 927.35,740.08 931,740.3C934.19,740.49 937.03,740.68 939.9,741.7C942.97,742.8 945.59,744.56 948.8,746.9C953.26,750.16 958.74,755.58 963.6,760.2C968.58,764.93 975.05,771.6 978.3,775C979.96,776.74 980.77,777.67 982,779L982,791.7L803,791.7Z" fill="#fef69b" stroke="none"/>
<path d="M803,791C804.13,789.83 804.76,788.79 806.4,787.5C809.42,785.14 815.23,782.21 820.6,779.2C827.49,775.34 837.21,769.75 844.4,766.4C850.06,763.76 854.87,762.24 860,760.2C865,758.21 869.87,756.27 874.8,754.3C879.73,752.33 884.63,750.13 889.6,748.4C894.5,746.7 899.44,745.29 904.4,744C909.31,742.72 914.52,741.3 919.2,740.7C923.33,740.17 927.35,740.08 931,740.3C934.19,740.49 937.03,740.68 939.9,741.7C942.97,742.8 945.59,744.56 948.8,746.9C953.26,750.16 958.74,755.58 963.6,760.2C968.58,764.93 975.05,771.6 978.3,775C979.96,776.74 980.77,777.67 982,779" stroke="#ffec00" stroke-width="2.7"/>
</g>
<rect x="740.3" y="653.8" width="239.1" height="134.9" fill="none" stroke="#0a0a0a" stroke-width="1.6"/>
<path d="M734.3,789.15H740.3M730.1,769.28H740.3M734.3,749.41H740.3M730.1,729.54H740.3M734.3,709.67H740.3M730.1,689.8H740.3M734.3,669.93H740.3M740.3,788.7V794.7M763.34,788.7V794.7M776.82,788.7V794.7M786.38,788.7V794.7M793.8,788.7V798.9M816.44,788.7V794.7M839.07,788.7V794.7M852.32,788.7V794.7M861.71,788.7V794.7M869,788.7V798.9M892.09,788.7V794.7M915.18,788.7V794.7M928.68,788.7V794.7M938.27,788.7V794.7M945.7,788.7V798.9M968.79,788.7V794.7" stroke="#0a0a0a" stroke-width="1.3" fill="none"/>
<g fill="#3c3c3c" font-family="NanumGothic, 'Liberation Sans', sans-serif">
<text x="697.5" y="774.68" font-size="15.0">10<tspan dy="-5.1" font-size="10.2">-12</tspan></text>
<text x="697.5" y="734.94" font-size="15.0">10<tspan dy="-5.1" font-size="10.2">-10</tspan></text>
<text x="697.5" y="695.2" font-size="15.0">10<tspan dy="-5.1" font-size="10.2">-8</tspan></text>
<text x="793.4" y="816.2" text-anchor="middle" font-size="15">10<tspan dy="-5.4" font-size="10.2">1</tspan></text>
<text x="868.6" y="816.2" text-anchor="middle" font-size="15">10<tspan dy="-5.4" font-size="10.2">2</tspan></text>
<text x="945.3" y="816.2" text-anchor="middle" font-size="15">10<tspan dy="-5.4" font-size="10.2">3</tspan></text>
</g>
<g fill="#1a1a1a" font-family="NanumGothic, 'Liberation Sans', sans-serif" font-size="21.9">
<text x="223" y="21.6" textLength="78.8" lengthAdjust="spacingAndGlyphs">SCALAR</text>
<text x="522.3" y="21.6" textLength="81.5" lengthAdjust="spacingAndGlyphs">VECTOR</text>
<text x="820.4" y="21.6" textLength="82.1" lengthAdjust="spacingAndGlyphs">TENSOR</text>
<text transform="translate(87.7,99.1) rotate(-90)" text-anchor="middle" font-size="20.5" textLength="25.8" lengthAdjust="spacingAndGlyphs">TT</text>
<text transform="translate(79.8,307.5) rotate(-90)" text-anchor="middle" font-size="20.5" textLength="22.7" lengthAdjust="spacingAndGlyphs">EE</text>
<text transform="translate(79.8,514.9) rotate(-90)" text-anchor="middle" font-size="20.5" textLength="25.5" lengthAdjust="spacingAndGlyphs">TE</text>
<text transform="translate(80.1,723.8) rotate(-90)" text-anchor="middle" font-size="20.5" textLength="26.7" lengthAdjust="spacingAndGlyphs">BB</text>
</g>
<g font-family="'Liberation Serif', 'Times New Roman', serif" fill="#111">
<text transform="translate(23.2,523) rotate(-90)" font-size="28" stroke="#fff" stroke-width="0.35"><tspan x="-1.6" font-style="italic">ℓ</tspan><tspan x="10.3">(</tspan><tspan x="18.4" font-style="italic">ℓ</tspan><tspan x="34.7" font-size="36" dy="3">+</tspan><tspan x="62.5" dy="-3">1</tspan><tspan x="75.4">)</tspan><tspan x="84.3" font-style="italic">C</tspan><tspan x="103.5" dy="4.5" font-size="19" font-style="italic">ℓ</tspan><tspan x="106.5" dy="-4.5" font-size="38">/</tspan><tspan x="122.8">2</tspan><tspan x="137.8" font-style="italic">π</tspan><tspan x="162.8" font-size="31" dy="1">[</tspan><tspan x="170.3" dy="-1" font-style="italic">μ</tspan><tspan x="180.5" font-size="31" font-style="italic">K</tspan><tspan x="206" dy="-12" font-size="21">2</tspan><tspan x="217" dy="13" font-size="31">]</tspan></text>
<text x="560.5" y="843" text-anchor="middle" font-size="25" font-style="italic" stroke="#fff" stroke-width="0.35">ℓ</text>
<path d="M179.5,683.9H241" stroke="#4b0a62" stroke-width="2.4" stroke-linecap="round"/>
<text x="265" y="691.5" font-size="23.5" font-style="italic">a</text>
<text x="283.6" y="691.5" font-size="17" textLength="15.2" lengthAdjust="spacingAndGlyphs">=</text>
<text x="305.2" y="691.5" font-size="23.5">1</text>
<path d="M179.5,704.4H241" stroke="#14809f" stroke-width="2.4" stroke-linecap="round"/>
<text x="265" y="712" font-size="23.5" font-style="italic">a</text>
<text x="283.6" y="712" font-size="17" textLength="15.2" lengthAdjust="spacingAndGlyphs">=</text>
<text x="305.2" y="712" font-size="23.5">10</text>
<text x="330" y="702.9" font-size="16">−</text>
<text x="340.8" y="702.9" font-size="16">1</text>
<path d="M179.5,725.1H241" stroke="#fb0a48" stroke-width="2.4" stroke-linecap="round"/>
<text x="265" y="732.7" font-size="23.5" font-style="italic">a</text>
<text x="283.6" y="732.7" font-size="17" textLength="15.2" lengthAdjust="spacingAndGlyphs">=</text>
<text x="305.2" y="732.7" font-size="23.5">10</text>
<text x="330" y="723.6" font-size="16">−</text>
<text x="340.8" y="723.6" font-size="16">2</text>
<path d="M179.5,745.4H241" stroke="#ff8b00" stroke-width="2.4" stroke-linecap="round"/>
<text x="265" y="753" font-size="23.5" font-style="italic">a</text>
<text x="283.6" y="753" font-size="17" textLength="15.2" lengthAdjust="spacingAndGlyphs">=</text>
<text x="305.2" y="753" font-size="23.5">10</text>
<text x="330" y="743.9" font-size="16">−</text>
<text x="340.8" y="743.9" font-size="16">3</text>
<path d="M179.5,765.7H241" stroke="#ffec00" stroke-width="2.4" stroke-linecap="round"/>
<text x="265" y="773.3" font-size="23.5" font-style="italic">a</text>
<text x="283.6" y="773.3" font-size="17" textLength="15.2" lengthAdjust="spacingAndGlyphs">=</text>
<text x="305.2" y="773.3" font-size="23.5">10</text>
<text x="330" y="764.2" font-size="16">−</text>
<text x="340.8" y="764.2" font-size="16">4</text>
</g>
</svg>
</body></html>
